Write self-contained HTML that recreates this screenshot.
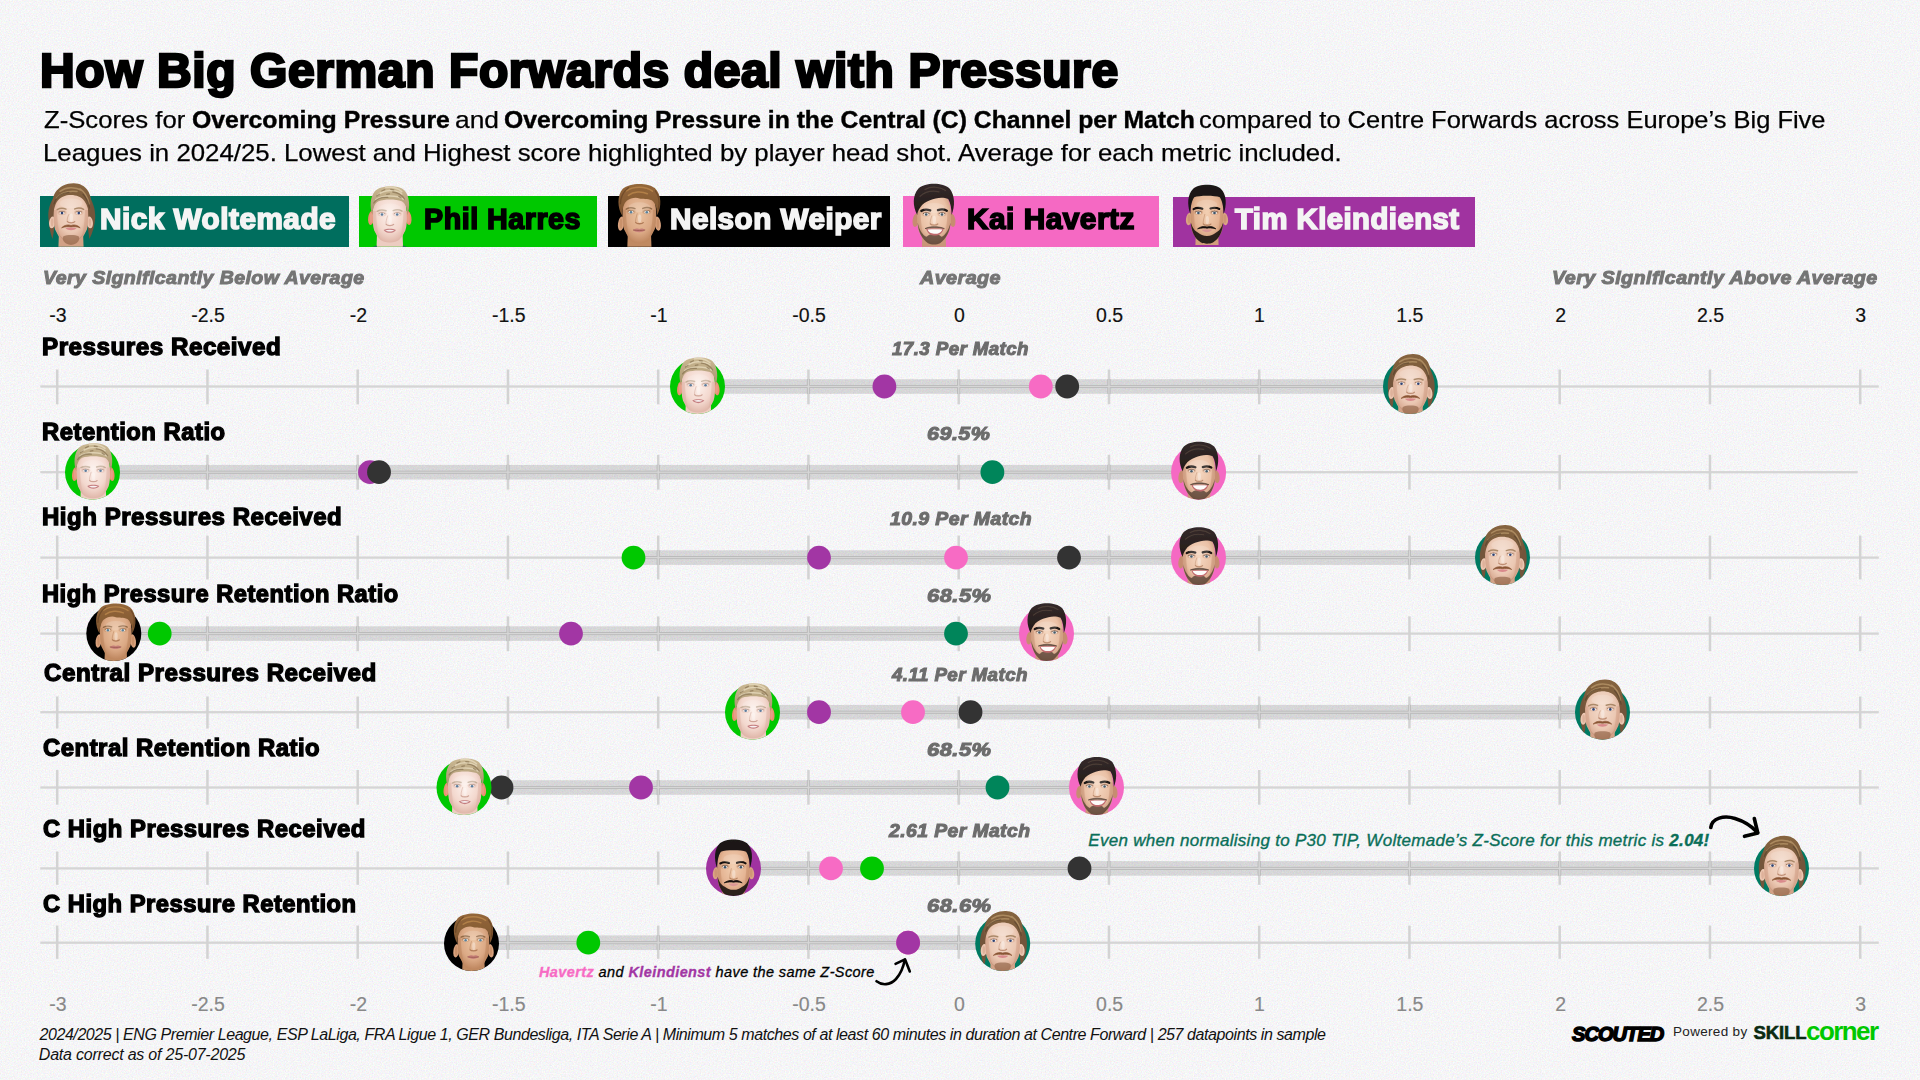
<!DOCTYPE html>
<html lang="en"><head><meta charset="utf-8"><title>How Big German Forwards deal with Pressure</title>
<style>
html,body{margin:0;padding:0}
body{width:1920px;height:1080px;overflow:hidden;background:#f6f6f7;font-family:"Liberation Sans",sans-serif;position:relative}
.t{position:absolute;white-space:nowrap;line-height:1;color:#000;stroke-linejoin:round;paint-order:stroke fill}
.box{position:absolute;top:196.2px;height:50.5px}
.hs{position:absolute;overflow:visible}
svg{position:absolute;left:0;top:0;overflow:visible}
#noise{position:absolute;left:0;top:0;width:1920px;height:1080px;pointer-events:none}

</style></head><body>
<svg id="noise" width="1920" height="1080"><filter id="nz" x="0" y="0" width="100%" height="100%" color-interpolation-filters="sRGB"><feTurbulence type="fractalNoise" baseFrequency="0.75" numOctaves="2" seed="7" stitchTiles="stitch"/><feColorMatrix type="matrix" values="0.16 0 0 0 0.881  0 0.16 0 0 0.881  0 0 0.16 0 0.887  0 0 0 0 1"/></filter><rect width="1920" height="1080" filter="url(#nz)"/></svg>
<div class="box" style="left:40.0px;width:309.0px;background:#006e5e"></div>
<div class="box" style="left:359.0px;width:238.0px;background:#00c800"></div>
<div class="box" style="left:608.0px;width:282.0px;background:#000000"></div>
<div class="box" style="left:903.0px;width:255.8px;background:#f569c3"></div>
<div class="box" style="left:1173.0px;width:302.0px;background:#a033a0;top:197.1px;height:49.6px"></div>
<svg width="1920" height="1080" viewBox="0 0 1920 1080">
<defs><radialGradient id="sk_wol" cx="0.5" cy="0.42" r="0.62"><stop offset="0" stop-color="#f4dccd"/><stop offset="0.62" stop-color="#ebc8b3"/><stop offset="1" stop-color="#cf9c82"/></radialGradient><linearGradient id="hr_wol" x1="0" y1="0" x2="0" y2="1"><stop offset="0" stop-color="#86643f"/><stop offset="1" stop-color="#73543a"/></linearGradient><radialGradient id="sk_har" cx="0.5" cy="0.42" r="0.62"><stop offset="0" stop-color="#fdf2ed"/><stop offset="0.62" stop-color="#f3d8ce"/><stop offset="1" stop-color="#dcb0a2"/></radialGradient><linearGradient id="hr_har" x1="0" y1="0" x2="0" y2="1"><stop offset="0" stop-color="#cbb994"/><stop offset="1" stop-color="#a8926c"/></linearGradient><radialGradient id="sk_wei" cx="0.5" cy="0.42" r="0.62"><stop offset="0" stop-color="#ecc4a2"/><stop offset="0.62" stop-color="#dba985"/><stop offset="1" stop-color="#b98058"/></radialGradient><linearGradient id="hr_wei" x1="0" y1="0" x2="0" y2="1"><stop offset="0" stop-color="#94673a"/><stop offset="1" stop-color="#7d5430"/></linearGradient><radialGradient id="sk_hav" cx="0.5" cy="0.42" r="0.62"><stop offset="0" stop-color="#f5d8c2"/><stop offset="0.62" stop-color="#eac1a6"/><stop offset="1" stop-color="#c48e70"/></radialGradient><linearGradient id="hr_hav" x1="0" y1="0" x2="0" y2="1"><stop offset="0" stop-color="#33292a"/><stop offset="1" stop-color="#241c18"/></linearGradient><radialGradient id="sk_kle" cx="0.5" cy="0.42" r="0.62"><stop offset="0" stop-color="#f2cfb2"/><stop offset="0.62" stop-color="#e5b594"/><stop offset="1" stop-color="#c48a66"/></radialGradient><linearGradient id="hr_kle" x1="0" y1="0" x2="0" y2="1"><stop offset="0" stop-color="#1e1a18"/><stop offset="1" stop-color="#141110"/></linearGradient><filter id="soft" x="-10%" y="-10%" width="120%" height="120%"><feGaussianBlur stdDeviation="0.32"/></filter></defs>
<defs><clipPath id="hc"><path d="M-40,-45 H40 V0 H27.5 A27.5,27.5 0 0 1 -27.5,0 H-40 Z"/></clipPath></defs>
<g>
<rect x="40.3" y="385.35" width="1838.5" height="2.3" fill="#d5d5d5"/>
<rect x="55.95" y="369.50" width="2.5" height="34.80" fill="#d3d3d3"/>
<rect x="206.20" y="369.50" width="2.5" height="34.80" fill="#d3d3d3"/>
<rect x="356.45" y="369.50" width="2.5" height="34.80" fill="#d3d3d3"/>
<rect x="506.70" y="369.50" width="2.5" height="34.80" fill="#d3d3d3"/>
<rect x="656.95" y="369.50" width="2.5" height="34.80" fill="#d3d3d3"/>
<rect x="807.20" y="369.50" width="2.5" height="34.80" fill="#d3d3d3"/>
<rect x="957.45" y="369.50" width="2.5" height="34.80" fill="#d3d3d3"/>
<rect x="1107.70" y="369.50" width="2.5" height="34.80" fill="#d3d3d3"/>
<rect x="1257.95" y="369.50" width="2.5" height="34.80" fill="#d3d3d3"/>
<rect x="1408.20" y="369.50" width="2.5" height="34.80" fill="#d3d3d3"/>
<rect x="1558.45" y="369.50" width="2.5" height="34.80" fill="#d3d3d3"/>
<rect x="1708.70" y="369.50" width="2.5" height="34.80" fill="#d3d3d3"/>
<rect x="1858.95" y="369.50" width="2.5" height="34.80" fill="#d3d3d3"/>
<rect x="697.5" y="379.20" width="713.0" height="14.6" fill="#000" fill-opacity="0.125"/>
<rect x="697.5" y="385.00" width="713.0" height="3" fill="#b9b9b9"/>
<rect x="806.90" y="379.20" width="3.1" height="14.6" fill="#bbbbbb"/>
<rect x="957.15" y="379.20" width="3.1" height="14.6" fill="#bbbbbb"/>
<rect x="1107.40" y="379.20" width="3.1" height="14.6" fill="#bbbbbb"/>
<rect x="1257.65" y="379.20" width="3.1" height="14.6" fill="#bbbbbb"/>
<rect x="1407.90" y="379.20" width="3.1" height="14.6" fill="#bbbbbb"/>
<rect x="697.5" y="385.85" width="713.0" height="1.3" fill="#d6d6d6"/>
<rect x="807.80" y="379.20" width="1.3" height="14.6" fill="#d6d6d6"/>
<rect x="958.05" y="379.20" width="1.3" height="14.6" fill="#d6d6d6"/>
<rect x="1108.30" y="379.20" width="1.3" height="14.6" fill="#d6d6d6"/>
<rect x="1258.55" y="379.20" width="1.3" height="14.6" fill="#d6d6d6"/>
<rect x="1408.80" y="379.20" width="1.3" height="14.6" fill="#d6d6d6"/>
<circle cx="884.4" cy="386.5" r="11.9" fill="#a236a4"/>
<circle cx="1040.8" cy="386.5" r="11.9" fill="#f76bc4"/>
<circle cx="1067.2" cy="386.5" r="11.9" fill="#333333"/>
<circle cx="697.5" cy="386.5" r="27.5" fill="#00c800"/>
<g transform="translate(697.5 386.5)" clip-path="url(#hc)"><g transform="translate(0.8 1.1) scale(0.980)"><g filter="url(#soft)"><path d="M-12.6,11.4 L-13.4,34 L13.4,34 L12.6,11.4 Z" fill="#ecccc1"/><ellipse cx="-18.5" cy="0.8" rx="3.1" ry="7.2" fill="#ee8e70" transform="rotate(8 -18.5 0.8)"/><ellipse cx="-18.6" cy="0.8" rx="1.3" ry="5.2" fill="#dcb0a2" fill-opacity="0.5"/><ellipse cx="18.5" cy="0.8" rx="3.1" ry="7.2" fill="#ee8e70" transform="rotate(-8 18.5 0.8)"/><ellipse cx="18.6" cy="0.8" rx="1.3" ry="5.2" fill="#dcb0a2" fill-opacity="0.5"/><path d="M-17.0,1 C-17.3,-18.5 -13.0,-23.5 0,-23.5 C13.0,-23.5 17.3,-18.5 17.0,1 C17.0,8 16.4,13 14.2,16 C11.2,22 8.5,25.4 0,25.4 C-8.5,25.4 -11.2,22 -14.2,16 C-16.4,13 -17.0,8 -17.0,1 Z" fill="url(#sk_har)"/><path d="M-17.0,-6 C-17.0,6 -16.0,16 -10.2,21 C-12.4,14 -13.6,4 -13.6,-6 Z" fill="#dcb0a2" fill-opacity="0.45"/><path d="M17.0,-6 C17.0,6 16.0,16 10.2,21 C12.4,14 13.6,4 13.6,-6 Z" fill="#dcb0a2" fill-opacity="0.45"/><path d="M-17.4,-2 C-20.2,-10 -19.8,-20 -14.8,-26 C-9,-32 9,-32.4 14.8,-26.6 C19.8,-21 20.6,-10 17.6,-2 C17.6,-8 16,-13.4 12,-15.8 C6,-17.8 -5,-18 -11.4,-15.8 C-15.6,-13.4 -17.2,-8 -17.4,-2 Z" fill="url(#hr_har)"/><path d="M-12,-22 C-6,-27.5 6,-28 12,-23 M-14,-17.4 C-8,-21.6 6,-22.4 13.6,-17.8 M-4,-29.4 C2,-30.4 8,-28.6 12,-25.4" fill="none" stroke="#e8dcc0" stroke-width="1.5" stroke-linecap="round" stroke-opacity="0.75"/><path d="M-16,-14 C-13,-18.6 -7,-20 -2,-19.6 M3,-25 C8,-24.6 12,-22 14.6,-18 M-8,-26 l3,-1.4 M1,-27.6 l3,0.4 M-13,-21 l2.6,-1.8 M9,-20.6 l2.4,1.6 M-3,-22.6 l2.6,-0.6" fill="none" stroke="#7d6848" stroke-width="1.3" stroke-linecap="round" stroke-opacity="0.6"/><ellipse cx="-7.8" cy="-3.2" rx="4.6" ry="2.6" fill="#dcb0a2" fill-opacity="0.38"/><ellipse cx="7.4" cy="-3.2" rx="4.6" ry="2.6" fill="#dcb0a2" fill-opacity="0.38"/><path d="M-12.6,-5.7 q4,-2.3 8.8,-0.5 M3.4,-6.4 q4.8,-1.8 8.8,0.5" fill="none" stroke="#b09a80" stroke-width="1.5" stroke-linecap="round" stroke-opacity="0.70"/><path d="M-11.0,-3.5 q3.2,-1.5 6.4,0 M4.2,-3.5 q3.2,-1.5 6.4,0" fill="none" stroke="#8a7464" stroke-width="0.9" stroke-opacity="0.7"/><ellipse cx="-7.8" cy="-2.6" rx="2.6" ry="1.35" fill="#f2ecea"/><circle cx="-7.8" cy="-2.5" r="1.3" fill="#5d7c9c"/><ellipse cx="7.4" cy="-2.6" rx="2.6" ry="1.35" fill="#f2ecea"/><circle cx="7.4" cy="-2.5" r="1.3" fill="#5d7c9c"/><path d="M-3.6,7.4 C-2.4,8.9 2.6,8.9 3.8,7.4" fill="none" stroke="#c49384" stroke-width="1.3" stroke-linecap="round" stroke-opacity="0.8"/><path d="M-2.2,-1.1 C-3.2,2.0 -4.2,5.4 -3.8,7.0" fill="none" stroke="#c49384" stroke-width="0.9" stroke-linecap="round" stroke-opacity="0.45"/><ellipse cx="0.3" cy="3.4" rx="1.7" ry="4.2" fill="#fff" fill-opacity="0.35"/><ellipse cx="0" cy="-8.5" rx="11.0" ry="5" fill="#fff" fill-opacity="0.16"/><path d="M-6.2,13 C-3,11.4 3,11.4 6.2,13 C3.6,16.8 -3.6,16.8 -6.2,13 Z" fill="#c57e80"/><path d="M-4.6,13.2 C-2,12.5 2,12.5 4.6,13.2 C2,14.9 -2,14.9 -4.6,13.2 Z" fill="#f6f1f1"/></g></g></g>
<circle cx="1410.5" cy="386.5" r="27.5" fill="#007a62"/>
<g transform="translate(1410.5 386.5)" clip-path="url(#hc)"><g transform="translate(0.0 0.0) scale(1.000)"><g filter="url(#soft)"><path d="M-16,-20 C-21,-14 -23.2,-6 -22.6,2 C-22.2,9 -21,16 -18.6,23 L-17.4,17 L-15,-6 Z M16,-22 C21.6,-16 24.6,-7 24.2,2 C23.8,9 21.6,17 18.4,23 L17.4,16 L15,-6 Z" fill="#73543a"/><path d="M-11.9,13.4 L-12.7,34 L12.7,34 L11.9,13.4 Z" fill="#d2a186"/><ellipse cx="-18.8" cy="6.5" rx="3.1" ry="6.0" fill="#ecc7b2" transform="rotate(8 -18.8 6.5)"/><ellipse cx="-18.9" cy="6.5" rx="1.3" ry="4.0" fill="#cf9c82" fill-opacity="0.5"/><ellipse cx="18.8" cy="6.5" rx="3.1" ry="6.0" fill="#ecc7b2" transform="rotate(-8 18.8 6.5)"/><ellipse cx="18.9" cy="6.5" rx="1.3" ry="4.0" fill="#cf9c82" fill-opacity="0.5"/><path d="M-17.3,1 C-17.6,-22.5 -13.3,-27.5 0,-27.5 C13.3,-27.5 17.6,-22.5 17.3,1 C17.3,8 16.7,13 14.6,16 C11.6,22 8.5,27.4 0,27.4 C-8.5,27.4 -11.6,22 -14.6,16 C-16.7,13 -17.3,8 -17.3,1 Z" fill="url(#sk_wol)"/><path d="M-17.3,-6 C-17.3,6 -16.3,16 -10.6,21 C-12.7,14 -13.9,4 -13.9,-6 Z" fill="#cf9c82" fill-opacity="0.45"/><path d="M17.3,-6 C17.3,6 16.3,16 10.6,21 C12.7,14 13.9,4 13.9,-6 Z" fill="#cf9c82" fill-opacity="0.45"/><path d="M-7.6,20.4 C-4,18.6 4,18.6 7.6,20.4 C9.4,23.6 7,28.6 0,29 C-7,28.6 -9.4,23.6 -7.6,20.4 Z" fill="#8a5e40" fill-opacity="0.62"/><path d="M-13,16 C-11,22 -7,26.4 0,27.6 C7,26.4 11,22 13,16 C10.6,21.4 6,24.6 0,25 C-6,24.6 -10.6,21.4 -13,16 Z" fill="#a9795c" fill-opacity="0.35"/><path d="M-17.8,-1 C-19.6,-8 -19.6,-17 -15.6,-23.6 C-11.6,-29.6 -4,-32.8 3,-32.6 C9,-32.4 13.4,-30 16.4,-26 C20,-21 21.6,-12 20,-5 L17.8,0 C17.8,-6 16.4,-11 13.4,-15 C10,-19.4 4,-21.4 -2,-20.8 C-8,-20.2 -13,-17 -15.4,-11.6 C-16.8,-8 -17.6,-4.6 -17.8,-1 Z" fill="url(#hr_wol)"/><path d="M-11,-24.6 C-5,-29 4,-29.6 11,-25.4 M-14.6,-17.6 C-10,-23 -2,-25.4 6,-24.4 M9,-27 C13.6,-24 16.6,-19 18,-12" fill="none" stroke="#b8976a" stroke-width="1.5" stroke-linecap="round" stroke-opacity="0.75"/><path d="M-17,-12 C-15,-19 -9,-23.4 -2,-23.6 M12,-21.6 C15.6,-18 17.6,-13 18.6,-8" fill="none" stroke="#54402c" stroke-width="1.3" stroke-linecap="round" stroke-opacity="0.6"/><ellipse cx="-9.0" cy="-3.5" rx="4.6" ry="2.6" fill="#cf9c82" fill-opacity="0.38"/><ellipse cx="7.8" cy="-3.5" rx="4.6" ry="2.6" fill="#cf9c82" fill-opacity="0.38"/><path d="M-13.8,-6.3 q4,-2.3 8.8,-0.5 M3.8,-7.0 q4.8,-1.8 8.8,0.5" fill="none" stroke="#94724e" stroke-width="1.5" stroke-linecap="round" stroke-opacity="0.75"/><path d="M-12.2,-3.8 q3.2,-1.5 6.4,0 M4.6,-3.8 q3.2,-1.5 6.4,0" fill="none" stroke="#6a4c36" stroke-width="0.9" stroke-opacity="0.7"/><ellipse cx="-9.0" cy="-2.9" rx="2.6" ry="1.35" fill="#f6efeb"/><circle cx="-9.0" cy="-2.8" r="1.3" fill="#2f4272"/><ellipse cx="7.8" cy="-2.9" rx="2.6" ry="1.35" fill="#f6efeb"/><circle cx="7.8" cy="-2.8" r="1.3" fill="#2f4272"/><path d="M-3.6,5.8 C-2.4,7.3 2.6,7.3 3.8,5.8" fill="none" stroke="#b27c60" stroke-width="1.3" stroke-linecap="round" stroke-opacity="0.8"/><path d="M-2.2,-1.4 C-3.2,0.4 -4.2,3.8 -3.8,5.4" fill="none" stroke="#b27c60" stroke-width="0.9" stroke-linecap="round" stroke-opacity="0.45"/><ellipse cx="0.3" cy="1.8" rx="1.7" ry="4.2" fill="#fff" fill-opacity="0.35"/><ellipse cx="0" cy="-12.5" rx="11.3" ry="5" fill="#fff" fill-opacity="0.16"/><path d="M-9.4,11.9 C-6,8.6 -2,8.7 0,9.6 C2,8.7 6,8.6 9.2,11.9 C5.6,10.5 2.6,10.7 0,11.1 C-2.6,10.7 -5.6,10.5 -9.4,11.9 Z" fill="#8a5434" stroke="#8a5434" stroke-width="0.7"/><path d="M-5.6,12.2 C-2,11.5 2,11.5 5.6,12.2 C3,15.2 -3,15.2 -5.6,12.2 Z" fill="#d98a8c"/></g></g></g>
</g>
<g>
<rect x="40.3" y="471.05" width="1817.4" height="2.3" fill="#d5d5d5"/>
<rect x="55.95" y="454.80" width="2.5" height="34.80" fill="#d3d3d3"/>
<rect x="206.20" y="454.80" width="2.5" height="34.80" fill="#d3d3d3"/>
<rect x="356.45" y="454.80" width="2.5" height="34.80" fill="#d3d3d3"/>
<rect x="506.70" y="454.80" width="2.5" height="34.80" fill="#d3d3d3"/>
<rect x="656.95" y="454.80" width="2.5" height="34.80" fill="#d3d3d3"/>
<rect x="807.20" y="454.80" width="2.5" height="34.80" fill="#d3d3d3"/>
<rect x="957.45" y="454.80" width="2.5" height="34.80" fill="#d3d3d3"/>
<rect x="1107.70" y="454.80" width="2.5" height="34.80" fill="#d3d3d3"/>
<rect x="1257.95" y="454.80" width="2.5" height="34.80" fill="#d3d3d3"/>
<rect x="1408.20" y="454.80" width="2.5" height="34.80" fill="#d3d3d3"/>
<rect x="1558.45" y="454.80" width="2.5" height="34.80" fill="#d3d3d3"/>
<rect x="1708.70" y="454.80" width="2.5" height="34.80" fill="#d3d3d3"/>
<rect x="92.5" y="464.90" width="1106.1" height="14.6" fill="#000" fill-opacity="0.125"/>
<rect x="92.5" y="470.70" width="1106.1" height="3" fill="#b9b9b9"/>
<rect x="205.90" y="464.90" width="3.1" height="14.6" fill="#bbbbbb"/>
<rect x="356.15" y="464.90" width="3.1" height="14.6" fill="#bbbbbb"/>
<rect x="506.40" y="464.90" width="3.1" height="14.6" fill="#bbbbbb"/>
<rect x="656.65" y="464.90" width="3.1" height="14.6" fill="#bbbbbb"/>
<rect x="806.90" y="464.90" width="3.1" height="14.6" fill="#bbbbbb"/>
<rect x="957.15" y="464.90" width="3.1" height="14.6" fill="#bbbbbb"/>
<rect x="1107.40" y="464.90" width="3.1" height="14.6" fill="#bbbbbb"/>
<rect x="92.5" y="471.55" width="1106.1" height="1.3" fill="#d6d6d6"/>
<rect x="206.80" y="464.90" width="1.3" height="14.6" fill="#d6d6d6"/>
<rect x="357.05" y="464.90" width="1.3" height="14.6" fill="#d6d6d6"/>
<rect x="507.30" y="464.90" width="1.3" height="14.6" fill="#d6d6d6"/>
<rect x="657.55" y="464.90" width="1.3" height="14.6" fill="#d6d6d6"/>
<rect x="807.80" y="464.90" width="1.3" height="14.6" fill="#d6d6d6"/>
<rect x="958.05" y="464.90" width="1.3" height="14.6" fill="#d6d6d6"/>
<rect x="1108.30" y="464.90" width="1.3" height="14.6" fill="#d6d6d6"/>
<circle cx="370.0" cy="472.2" r="11.9" fill="#a236a4"/>
<circle cx="379.0" cy="472.2" r="11.9" fill="#333333"/>
<circle cx="992.4" cy="472.2" r="11.9" fill="#00855a"/>
<circle cx="92.5" cy="472.2" r="27.5" fill="#00c800"/>
<g transform="translate(92.5 472.2)" clip-path="url(#hc)"><g transform="translate(0.8 1.1) scale(0.980)"><g filter="url(#soft)"><path d="M-12.6,11.4 L-13.4,34 L13.4,34 L12.6,11.4 Z" fill="#ecccc1"/><ellipse cx="-18.5" cy="0.8" rx="3.1" ry="7.2" fill="#ee8e70" transform="rotate(8 -18.5 0.8)"/><ellipse cx="-18.6" cy="0.8" rx="1.3" ry="5.2" fill="#dcb0a2" fill-opacity="0.5"/><ellipse cx="18.5" cy="0.8" rx="3.1" ry="7.2" fill="#ee8e70" transform="rotate(-8 18.5 0.8)"/><ellipse cx="18.6" cy="0.8" rx="1.3" ry="5.2" fill="#dcb0a2" fill-opacity="0.5"/><path d="M-17.0,1 C-17.3,-18.5 -13.0,-23.5 0,-23.5 C13.0,-23.5 17.3,-18.5 17.0,1 C17.0,8 16.4,13 14.2,16 C11.2,22 8.5,25.4 0,25.4 C-8.5,25.4 -11.2,22 -14.2,16 C-16.4,13 -17.0,8 -17.0,1 Z" fill="url(#sk_har)"/><path d="M-17.0,-6 C-17.0,6 -16.0,16 -10.2,21 C-12.4,14 -13.6,4 -13.6,-6 Z" fill="#dcb0a2" fill-opacity="0.45"/><path d="M17.0,-6 C17.0,6 16.0,16 10.2,21 C12.4,14 13.6,4 13.6,-6 Z" fill="#dcb0a2" fill-opacity="0.45"/><path d="M-17.4,-2 C-20.2,-10 -19.8,-20 -14.8,-26 C-9,-32 9,-32.4 14.8,-26.6 C19.8,-21 20.6,-10 17.6,-2 C17.6,-8 16,-13.4 12,-15.8 C6,-17.8 -5,-18 -11.4,-15.8 C-15.6,-13.4 -17.2,-8 -17.4,-2 Z" fill="url(#hr_har)"/><path d="M-12,-22 C-6,-27.5 6,-28 12,-23 M-14,-17.4 C-8,-21.6 6,-22.4 13.6,-17.8 M-4,-29.4 C2,-30.4 8,-28.6 12,-25.4" fill="none" stroke="#e8dcc0" stroke-width="1.5" stroke-linecap="round" stroke-opacity="0.75"/><path d="M-16,-14 C-13,-18.6 -7,-20 -2,-19.6 M3,-25 C8,-24.6 12,-22 14.6,-18 M-8,-26 l3,-1.4 M1,-27.6 l3,0.4 M-13,-21 l2.6,-1.8 M9,-20.6 l2.4,1.6 M-3,-22.6 l2.6,-0.6" fill="none" stroke="#7d6848" stroke-width="1.3" stroke-linecap="round" stroke-opacity="0.6"/><ellipse cx="-7.8" cy="-3.2" rx="4.6" ry="2.6" fill="#dcb0a2" fill-opacity="0.38"/><ellipse cx="7.4" cy="-3.2" rx="4.6" ry="2.6" fill="#dcb0a2" fill-opacity="0.38"/><path d="M-12.6,-5.7 q4,-2.3 8.8,-0.5 M3.4,-6.4 q4.8,-1.8 8.8,0.5" fill="none" stroke="#b09a80" stroke-width="1.5" stroke-linecap="round" stroke-opacity="0.70"/><path d="M-11.0,-3.5 q3.2,-1.5 6.4,0 M4.2,-3.5 q3.2,-1.5 6.4,0" fill="none" stroke="#8a7464" stroke-width="0.9" stroke-opacity="0.7"/><ellipse cx="-7.8" cy="-2.6" rx="2.6" ry="1.35" fill="#f2ecea"/><circle cx="-7.8" cy="-2.5" r="1.3" fill="#5d7c9c"/><ellipse cx="7.4" cy="-2.6" rx="2.6" ry="1.35" fill="#f2ecea"/><circle cx="7.4" cy="-2.5" r="1.3" fill="#5d7c9c"/><path d="M-3.6,7.4 C-2.4,8.9 2.6,8.9 3.8,7.4" fill="none" stroke="#c49384" stroke-width="1.3" stroke-linecap="round" stroke-opacity="0.8"/><path d="M-2.2,-1.1 C-3.2,2.0 -4.2,5.4 -3.8,7.0" fill="none" stroke="#c49384" stroke-width="0.9" stroke-linecap="round" stroke-opacity="0.45"/><ellipse cx="0.3" cy="3.4" rx="1.7" ry="4.2" fill="#fff" fill-opacity="0.35"/><ellipse cx="0" cy="-8.5" rx="11.0" ry="5" fill="#fff" fill-opacity="0.16"/><path d="M-6.2,13 C-3,11.4 3,11.4 6.2,13 C3.6,16.8 -3.6,16.8 -6.2,13 Z" fill="#c57e80"/><path d="M-4.6,13.2 C-2,12.5 2,12.5 4.6,13.2 C2,14.9 -2,14.9 -4.6,13.2 Z" fill="#f6f1f1"/></g></g></g>
<circle cx="1198.6" cy="472.2" r="27.5" fill="#f569c3"/>
<g transform="translate(1198.6 472.2)" clip-path="url(#hc)"><g transform="translate(0.4 0.8) scale(0.960)"><g filter="url(#soft)"><path d="M-11.4,13.8 L-12.2,34 L12.2,34 L11.4,13.8 Z" fill="#c99678"/><ellipse cx="-18.3" cy="3.8" rx="3.1" ry="6.8" fill="#c88c72" transform="rotate(8 -18.3 3.8)"/><ellipse cx="-18.4" cy="3.8" rx="1.3" ry="4.8" fill="#c48e70" fill-opacity="0.5"/><ellipse cx="18.3" cy="3.8" rx="3.1" ry="6.8" fill="#c88c72" transform="rotate(-8 18.3 3.8)"/><ellipse cx="18.4" cy="3.8" rx="1.3" ry="4.8" fill="#c48e70" fill-opacity="0.5"/><path d="M-16.8,1 C-17.1,-18.5 -12.8,-23.5 0,-23.5 C12.8,-23.5 17.1,-18.5 16.8,1 C16.8,8 16.2,13 14.6,16 C11.6,22 8.5,27.8 0,27.8 C-8.5,27.8 -11.6,22 -14.6,16 C-16.2,13 -16.8,8 -16.8,1 Z" fill="url(#sk_hav)"/><path d="M-16.8,-6 C-16.8,6 -15.8,16 -10.6,21 C-12.2,14 -13.4,4 -13.4,-6 Z" fill="#c48e70" fill-opacity="0.45"/><path d="M16.8,-6 C16.8,6 15.8,16 10.6,21 C12.2,14 13.4,4 13.4,-6 Z" fill="#c48e70" fill-opacity="0.45"/><path d="M-16.4,6 C-15.8,15 -12,22.6 -6,26.8 C-3,28.6 3,28.6 6,26.8 C12,22.6 16,15 16.6,6 C14.6,14 11,19 7.4,20.4 C4,16.4 -4,16.4 -7.4,20.4 C-11,19 -14.6,14 -16.4,6 Z" fill="#3a2a22" fill-opacity="0.66"/><path d="M-9,12.2 C-4,9.6 4.6,9.6 10.4,12.2 C5,11.2 -4,11.2 -9,12.2 Z" fill="#3a2a22" fill-opacity="0.6" stroke="#3a2a22" stroke-opacity="0.5" stroke-width="1"/><path d="M-16.8,-1.5 C-21.4,-10 -21.6,-21 -15.8,-27.6 C-9,-34.2 9,-34.2 15.8,-27.6 C21,-21 21.2,-10 17.6,-1.5 C17.4,-8 16.8,-13 14.2,-17.4 C9,-19.8 2,-18.8 -4,-16.2 C-8,-14.4 -11.6,-12.8 -13.8,-9 C-15.8,-6 -16.6,-4 -16.8,-1.5 Z" fill="url(#hr_hav)"/><path d="M-9,-27 C-3,-30.4 6,-29.8 11.6,-25.8 M-14,-20 C-9,-24.6 -2,-26 5,-24.6" fill="none" stroke="#55463c" stroke-width="1.2" stroke-linecap="round" stroke-opacity="0.75"/><ellipse cx="-7.8" cy="-2.6" rx="4.6" ry="2.6" fill="#c48e70" fill-opacity="0.38"/><ellipse cx="8.0" cy="-2.6" rx="4.6" ry="2.6" fill="#c48e70" fill-opacity="0.38"/><path d="M-12.6,-5.5 q4,-2.3 8.8,-0.5 M4.0,-6.2 q4.8,-1.8 8.8,0.5" fill="none" stroke="#1d1612" stroke-width="2.4" stroke-linecap="round" stroke-opacity="1.00"/><path d="M-11.0,-2.9 q3.2,-1.5 6.4,0 M4.8,-2.9 q3.2,-1.5 6.4,0" fill="none" stroke="#2a201a" stroke-width="0.9" stroke-opacity="0.7"/><ellipse cx="-7.8" cy="-2.0" rx="2.6" ry="1.35" fill="#f1e9e4"/><circle cx="-7.8" cy="-1.9" r="1.3" fill="#465c6a"/><ellipse cx="8.0" cy="-2.0" rx="2.6" ry="1.35" fill="#f1e9e4"/><circle cx="8.0" cy="-1.9" r="1.3" fill="#465c6a"/><path d="M-3.6,7.6 C-2.4,9.1 2.6,9.1 3.8,7.6" fill="none" stroke="#b27e60" stroke-width="1.3" stroke-linecap="round" stroke-opacity="0.8"/><path d="M-2.2,-0.5 C-3.2,2.2 -4.2,5.6 -3.8,7.2" fill="none" stroke="#b27e60" stroke-width="0.9" stroke-linecap="round" stroke-opacity="0.45"/><ellipse cx="0.3" cy="3.6" rx="1.7" ry="4.2" fill="#fff" fill-opacity="0.35"/><ellipse cx="0" cy="-8.5" rx="10.8" ry="5" fill="#fff" fill-opacity="0.16"/><path d="M-7.8,12.6 C-3,12 5,12 9.8,12.4 C8.2,17.8 4,19.2 1,19.2 C-2.4,19.2 -6.2,17.8 -7.8,12.6 Z" fill="#c16a6e"/><path d="M-6.4,13.1 C-2,12.7 4.4,12.7 8.4,13 C6.8,16.6 3.6,17.4 1,17.4 C-1.8,17.4 -5,16.6 -6.4,13.1 Z" fill="#fdfcfa"/></g></g></g>
</g>
<g>
<rect x="40.3" y="556.45" width="1838.5" height="2.3" fill="#d5d5d5"/>
<rect x="55.95" y="535.60" width="2.5" height="43.80" fill="#d3d3d3"/>
<rect x="206.20" y="535.60" width="2.5" height="43.80" fill="#d3d3d3"/>
<rect x="356.45" y="535.60" width="2.5" height="43.80" fill="#d3d3d3"/>
<rect x="506.70" y="535.60" width="2.5" height="43.80" fill="#d3d3d3"/>
<rect x="656.95" y="535.60" width="2.5" height="43.80" fill="#d3d3d3"/>
<rect x="807.20" y="535.60" width="2.5" height="43.80" fill="#d3d3d3"/>
<rect x="957.45" y="535.60" width="2.5" height="43.80" fill="#d3d3d3"/>
<rect x="1107.70" y="535.60" width="2.5" height="43.80" fill="#d3d3d3"/>
<rect x="1257.95" y="535.60" width="2.5" height="43.80" fill="#d3d3d3"/>
<rect x="1408.20" y="535.60" width="2.5" height="43.80" fill="#d3d3d3"/>
<rect x="1558.45" y="535.60" width="2.5" height="43.80" fill="#d3d3d3"/>
<rect x="1708.70" y="535.60" width="2.5" height="43.80" fill="#d3d3d3"/>
<rect x="1858.95" y="535.60" width="2.5" height="43.80" fill="#d3d3d3"/>
<rect x="633.5" y="550.30" width="869.0" height="14.6" fill="#000" fill-opacity="0.125"/>
<rect x="633.5" y="556.10" width="869.0" height="3" fill="#b9b9b9"/>
<rect x="656.65" y="550.30" width="3.1" height="14.6" fill="#bbbbbb"/>
<rect x="806.90" y="550.30" width="3.1" height="14.6" fill="#bbbbbb"/>
<rect x="957.15" y="550.30" width="3.1" height="14.6" fill="#bbbbbb"/>
<rect x="1107.40" y="550.30" width="3.1" height="14.6" fill="#bbbbbb"/>
<rect x="1257.65" y="550.30" width="3.1" height="14.6" fill="#bbbbbb"/>
<rect x="1407.90" y="550.30" width="3.1" height="14.6" fill="#bbbbbb"/>
<rect x="633.5" y="556.95" width="869.0" height="1.3" fill="#d6d6d6"/>
<rect x="657.55" y="550.30" width="1.3" height="14.6" fill="#d6d6d6"/>
<rect x="807.80" y="550.30" width="1.3" height="14.6" fill="#d6d6d6"/>
<rect x="958.05" y="550.30" width="1.3" height="14.6" fill="#d6d6d6"/>
<rect x="1108.30" y="550.30" width="1.3" height="14.6" fill="#d6d6d6"/>
<rect x="1258.55" y="550.30" width="1.3" height="14.6" fill="#d6d6d6"/>
<rect x="1408.80" y="550.30" width="1.3" height="14.6" fill="#d6d6d6"/>
<circle cx="633.5" cy="557.6" r="11.9" fill="#00c800"/>
<circle cx="819.0" cy="557.6" r="11.9" fill="#a236a4"/>
<circle cx="956.0" cy="557.6" r="11.9" fill="#f76bc4"/>
<circle cx="1069.0" cy="557.6" r="11.9" fill="#333333"/>
<circle cx="1198.5" cy="557.6" r="27.5" fill="#f569c3"/>
<g transform="translate(1198.5 557.6)" clip-path="url(#hc)"><g transform="translate(0.4 0.8) scale(0.960)"><g filter="url(#soft)"><path d="M-11.4,13.8 L-12.2,34 L12.2,34 L11.4,13.8 Z" fill="#c99678"/><ellipse cx="-18.3" cy="3.8" rx="3.1" ry="6.8" fill="#c88c72" transform="rotate(8 -18.3 3.8)"/><ellipse cx="-18.4" cy="3.8" rx="1.3" ry="4.8" fill="#c48e70" fill-opacity="0.5"/><ellipse cx="18.3" cy="3.8" rx="3.1" ry="6.8" fill="#c88c72" transform="rotate(-8 18.3 3.8)"/><ellipse cx="18.4" cy="3.8" rx="1.3" ry="4.8" fill="#c48e70" fill-opacity="0.5"/><path d="M-16.8,1 C-17.1,-18.5 -12.8,-23.5 0,-23.5 C12.8,-23.5 17.1,-18.5 16.8,1 C16.8,8 16.2,13 14.6,16 C11.6,22 8.5,27.8 0,27.8 C-8.5,27.8 -11.6,22 -14.6,16 C-16.2,13 -16.8,8 -16.8,1 Z" fill="url(#sk_hav)"/><path d="M-16.8,-6 C-16.8,6 -15.8,16 -10.6,21 C-12.2,14 -13.4,4 -13.4,-6 Z" fill="#c48e70" fill-opacity="0.45"/><path d="M16.8,-6 C16.8,6 15.8,16 10.6,21 C12.2,14 13.4,4 13.4,-6 Z" fill="#c48e70" fill-opacity="0.45"/><path d="M-16.4,6 C-15.8,15 -12,22.6 -6,26.8 C-3,28.6 3,28.6 6,26.8 C12,22.6 16,15 16.6,6 C14.6,14 11,19 7.4,20.4 C4,16.4 -4,16.4 -7.4,20.4 C-11,19 -14.6,14 -16.4,6 Z" fill="#3a2a22" fill-opacity="0.66"/><path d="M-9,12.2 C-4,9.6 4.6,9.6 10.4,12.2 C5,11.2 -4,11.2 -9,12.2 Z" fill="#3a2a22" fill-opacity="0.6" stroke="#3a2a22" stroke-opacity="0.5" stroke-width="1"/><path d="M-16.8,-1.5 C-21.4,-10 -21.6,-21 -15.8,-27.6 C-9,-34.2 9,-34.2 15.8,-27.6 C21,-21 21.2,-10 17.6,-1.5 C17.4,-8 16.8,-13 14.2,-17.4 C9,-19.8 2,-18.8 -4,-16.2 C-8,-14.4 -11.6,-12.8 -13.8,-9 C-15.8,-6 -16.6,-4 -16.8,-1.5 Z" fill="url(#hr_hav)"/><path d="M-9,-27 C-3,-30.4 6,-29.8 11.6,-25.8 M-14,-20 C-9,-24.6 -2,-26 5,-24.6" fill="none" stroke="#55463c" stroke-width="1.2" stroke-linecap="round" stroke-opacity="0.75"/><ellipse cx="-7.8" cy="-2.6" rx="4.6" ry="2.6" fill="#c48e70" fill-opacity="0.38"/><ellipse cx="8.0" cy="-2.6" rx="4.6" ry="2.6" fill="#c48e70" fill-opacity="0.38"/><path d="M-12.6,-5.5 q4,-2.3 8.8,-0.5 M4.0,-6.2 q4.8,-1.8 8.8,0.5" fill="none" stroke="#1d1612" stroke-width="2.4" stroke-linecap="round" stroke-opacity="1.00"/><path d="M-11.0,-2.9 q3.2,-1.5 6.4,0 M4.8,-2.9 q3.2,-1.5 6.4,0" fill="none" stroke="#2a201a" stroke-width="0.9" stroke-opacity="0.7"/><ellipse cx="-7.8" cy="-2.0" rx="2.6" ry="1.35" fill="#f1e9e4"/><circle cx="-7.8" cy="-1.9" r="1.3" fill="#465c6a"/><ellipse cx="8.0" cy="-2.0" rx="2.6" ry="1.35" fill="#f1e9e4"/><circle cx="8.0" cy="-1.9" r="1.3" fill="#465c6a"/><path d="M-3.6,7.6 C-2.4,9.1 2.6,9.1 3.8,7.6" fill="none" stroke="#b27e60" stroke-width="1.3" stroke-linecap="round" stroke-opacity="0.8"/><path d="M-2.2,-0.5 C-3.2,2.2 -4.2,5.6 -3.8,7.2" fill="none" stroke="#b27e60" stroke-width="0.9" stroke-linecap="round" stroke-opacity="0.45"/><ellipse cx="0.3" cy="3.6" rx="1.7" ry="4.2" fill="#fff" fill-opacity="0.35"/><ellipse cx="0" cy="-8.5" rx="10.8" ry="5" fill="#fff" fill-opacity="0.16"/><path d="M-7.8,12.6 C-3,12 5,12 9.8,12.4 C8.2,17.8 4,19.2 1,19.2 C-2.4,19.2 -6.2,17.8 -7.8,12.6 Z" fill="#c16a6e"/><path d="M-6.4,13.1 C-2,12.7 4.4,12.7 8.4,13 C6.8,16.6 3.6,17.4 1,17.4 C-1.8,17.4 -5,16.6 -6.4,13.1 Z" fill="#fdfcfa"/></g></g></g>
<circle cx="1502.5" cy="557.6" r="27.5" fill="#007a62"/>
<g transform="translate(1502.5 557.6)" clip-path="url(#hc)"><g transform="translate(0.0 0.0) scale(1.000)"><g filter="url(#soft)"><path d="M-16,-20 C-21,-14 -23.2,-6 -22.6,2 C-22.2,9 -21,16 -18.6,23 L-17.4,17 L-15,-6 Z M16,-22 C21.6,-16 24.6,-7 24.2,2 C23.8,9 21.6,17 18.4,23 L17.4,16 L15,-6 Z" fill="#73543a"/><path d="M-11.9,13.4 L-12.7,34 L12.7,34 L11.9,13.4 Z" fill="#d2a186"/><ellipse cx="-18.8" cy="6.5" rx="3.1" ry="6.0" fill="#ecc7b2" transform="rotate(8 -18.8 6.5)"/><ellipse cx="-18.9" cy="6.5" rx="1.3" ry="4.0" fill="#cf9c82" fill-opacity="0.5"/><ellipse cx="18.8" cy="6.5" rx="3.1" ry="6.0" fill="#ecc7b2" transform="rotate(-8 18.8 6.5)"/><ellipse cx="18.9" cy="6.5" rx="1.3" ry="4.0" fill="#cf9c82" fill-opacity="0.5"/><path d="M-17.3,1 C-17.6,-22.5 -13.3,-27.5 0,-27.5 C13.3,-27.5 17.6,-22.5 17.3,1 C17.3,8 16.7,13 14.6,16 C11.6,22 8.5,27.4 0,27.4 C-8.5,27.4 -11.6,22 -14.6,16 C-16.7,13 -17.3,8 -17.3,1 Z" fill="url(#sk_wol)"/><path d="M-17.3,-6 C-17.3,6 -16.3,16 -10.6,21 C-12.7,14 -13.9,4 -13.9,-6 Z" fill="#cf9c82" fill-opacity="0.45"/><path d="M17.3,-6 C17.3,6 16.3,16 10.6,21 C12.7,14 13.9,4 13.9,-6 Z" fill="#cf9c82" fill-opacity="0.45"/><path d="M-7.6,20.4 C-4,18.6 4,18.6 7.6,20.4 C9.4,23.6 7,28.6 0,29 C-7,28.6 -9.4,23.6 -7.6,20.4 Z" fill="#8a5e40" fill-opacity="0.62"/><path d="M-13,16 C-11,22 -7,26.4 0,27.6 C7,26.4 11,22 13,16 C10.6,21.4 6,24.6 0,25 C-6,24.6 -10.6,21.4 -13,16 Z" fill="#a9795c" fill-opacity="0.35"/><path d="M-17.8,-1 C-19.6,-8 -19.6,-17 -15.6,-23.6 C-11.6,-29.6 -4,-32.8 3,-32.6 C9,-32.4 13.4,-30 16.4,-26 C20,-21 21.6,-12 20,-5 L17.8,0 C17.8,-6 16.4,-11 13.4,-15 C10,-19.4 4,-21.4 -2,-20.8 C-8,-20.2 -13,-17 -15.4,-11.6 C-16.8,-8 -17.6,-4.6 -17.8,-1 Z" fill="url(#hr_wol)"/><path d="M-11,-24.6 C-5,-29 4,-29.6 11,-25.4 M-14.6,-17.6 C-10,-23 -2,-25.4 6,-24.4 M9,-27 C13.6,-24 16.6,-19 18,-12" fill="none" stroke="#b8976a" stroke-width="1.5" stroke-linecap="round" stroke-opacity="0.75"/><path d="M-17,-12 C-15,-19 -9,-23.4 -2,-23.6 M12,-21.6 C15.6,-18 17.6,-13 18.6,-8" fill="none" stroke="#54402c" stroke-width="1.3" stroke-linecap="round" stroke-opacity="0.6"/><ellipse cx="-9.0" cy="-3.5" rx="4.6" ry="2.6" fill="#cf9c82" fill-opacity="0.38"/><ellipse cx="7.8" cy="-3.5" rx="4.6" ry="2.6" fill="#cf9c82" fill-opacity="0.38"/><path d="M-13.8,-6.3 q4,-2.3 8.8,-0.5 M3.8,-7.0 q4.8,-1.8 8.8,0.5" fill="none" stroke="#94724e" stroke-width="1.5" stroke-linecap="round" stroke-opacity="0.75"/><path d="M-12.2,-3.8 q3.2,-1.5 6.4,0 M4.6,-3.8 q3.2,-1.5 6.4,0" fill="none" stroke="#6a4c36" stroke-width="0.9" stroke-opacity="0.7"/><ellipse cx="-9.0" cy="-2.9" rx="2.6" ry="1.35" fill="#f6efeb"/><circle cx="-9.0" cy="-2.8" r="1.3" fill="#2f4272"/><ellipse cx="7.8" cy="-2.9" rx="2.6" ry="1.35" fill="#f6efeb"/><circle cx="7.8" cy="-2.8" r="1.3" fill="#2f4272"/><path d="M-3.6,5.8 C-2.4,7.3 2.6,7.3 3.8,5.8" fill="none" stroke="#b27c60" stroke-width="1.3" stroke-linecap="round" stroke-opacity="0.8"/><path d="M-2.2,-1.4 C-3.2,0.4 -4.2,3.8 -3.8,5.4" fill="none" stroke="#b27c60" stroke-width="0.9" stroke-linecap="round" stroke-opacity="0.45"/><ellipse cx="0.3" cy="1.8" rx="1.7" ry="4.2" fill="#fff" fill-opacity="0.35"/><ellipse cx="0" cy="-12.5" rx="11.3" ry="5" fill="#fff" fill-opacity="0.16"/><path d="M-9.4,11.9 C-6,8.6 -2,8.7 0,9.6 C2,8.7 6,8.6 9.2,11.9 C5.6,10.5 2.6,10.7 0,11.1 C-2.6,10.7 -5.6,10.5 -9.4,11.9 Z" fill="#8a5434" stroke="#8a5434" stroke-width="0.7"/><path d="M-5.6,12.2 C-2,11.5 2,11.5 5.6,12.2 C3,15.2 -3,15.2 -5.6,12.2 Z" fill="#d98a8c"/></g></g></g>
</g>
<g>
<rect x="40.3" y="632.45" width="1838.5" height="2.3" fill="#d5d5d5"/>
<rect x="55.95" y="616.40" width="2.5" height="34.80" fill="#d3d3d3"/>
<rect x="206.20" y="616.40" width="2.5" height="34.80" fill="#d3d3d3"/>
<rect x="356.45" y="616.40" width="2.5" height="34.80" fill="#d3d3d3"/>
<rect x="506.70" y="616.40" width="2.5" height="34.80" fill="#d3d3d3"/>
<rect x="656.95" y="616.40" width="2.5" height="34.80" fill="#d3d3d3"/>
<rect x="807.20" y="616.40" width="2.5" height="34.80" fill="#d3d3d3"/>
<rect x="957.45" y="616.40" width="2.5" height="34.80" fill="#d3d3d3"/>
<rect x="1107.70" y="616.40" width="2.5" height="34.80" fill="#d3d3d3"/>
<rect x="1257.95" y="616.40" width="2.5" height="34.80" fill="#d3d3d3"/>
<rect x="1408.20" y="616.40" width="2.5" height="34.80" fill="#d3d3d3"/>
<rect x="1558.45" y="616.40" width="2.5" height="34.80" fill="#d3d3d3"/>
<rect x="1708.70" y="616.40" width="2.5" height="34.80" fill="#d3d3d3"/>
<rect x="1858.95" y="616.40" width="2.5" height="34.80" fill="#d3d3d3"/>
<rect x="113.8" y="626.30" width="932.7" height="14.6" fill="#000" fill-opacity="0.125"/>
<rect x="113.8" y="632.10" width="932.7" height="3" fill="#b9b9b9"/>
<rect x="205.90" y="626.30" width="3.1" height="14.6" fill="#bbbbbb"/>
<rect x="356.15" y="626.30" width="3.1" height="14.6" fill="#bbbbbb"/>
<rect x="506.40" y="626.30" width="3.1" height="14.6" fill="#bbbbbb"/>
<rect x="656.65" y="626.30" width="3.1" height="14.6" fill="#bbbbbb"/>
<rect x="806.90" y="626.30" width="3.1" height="14.6" fill="#bbbbbb"/>
<rect x="957.15" y="626.30" width="3.1" height="14.6" fill="#bbbbbb"/>
<rect x="113.8" y="632.95" width="932.7" height="1.3" fill="#d6d6d6"/>
<rect x="206.80" y="626.30" width="1.3" height="14.6" fill="#d6d6d6"/>
<rect x="357.05" y="626.30" width="1.3" height="14.6" fill="#d6d6d6"/>
<rect x="507.30" y="626.30" width="1.3" height="14.6" fill="#d6d6d6"/>
<rect x="657.55" y="626.30" width="1.3" height="14.6" fill="#d6d6d6"/>
<rect x="807.80" y="626.30" width="1.3" height="14.6" fill="#d6d6d6"/>
<rect x="958.05" y="626.30" width="1.3" height="14.6" fill="#d6d6d6"/>
<circle cx="159.7" cy="633.6" r="11.9" fill="#00c800"/>
<circle cx="571.0" cy="633.6" r="11.9" fill="#a236a4"/>
<circle cx="956.0" cy="633.6" r="11.9" fill="#00855a"/>
<circle cx="113.8" cy="633.6" r="27.5" fill="#000000"/>
<g transform="translate(113.8 633.6)" clip-path="url(#hc)"><g transform="translate(2.0 0.0) scale(0.940)"><g filter="url(#soft)"><path d="M-11.4,13.4 L-12.2,34 L12.2,34 L11.4,13.4 Z" fill="#c08a62"/><ellipse cx="-18.3" cy="7.8" rx="3.1" ry="7.2" fill="#d9a27e" transform="rotate(8 -18.3 7.8)"/><ellipse cx="-18.4" cy="7.8" rx="1.3" ry="5.2" fill="#b98058" fill-opacity="0.5"/><ellipse cx="18.3" cy="7.8" rx="3.1" ry="7.2" fill="#d9a27e" transform="rotate(-8 18.3 7.8)"/><ellipse cx="18.4" cy="7.8" rx="1.3" ry="5.2" fill="#b98058" fill-opacity="0.5"/><path d="M-16.8,1 C-17.1,-18.5 -12.8,-23.5 0,-23.5 C12.8,-23.5 17.1,-18.5 16.8,1 C16.8,8 16.2,13 14.0,16 C11.0,22 8.5,27.4 0,27.4 C-8.5,27.4 -11.0,22 -14.0,16 C-16.2,13 -16.8,8 -16.8,1 Z" fill="url(#sk_wei)"/><path d="M-16.8,-6 C-16.8,6 -15.8,16 -10.0,21 C-12.2,14 -13.4,4 -13.4,-6 Z" fill="#b98058" fill-opacity="0.45"/><path d="M16.8,-6 C16.8,6 15.8,16 10.0,21 C12.2,14 13.4,4 13.4,-6 Z" fill="#b98058" fill-opacity="0.45"/><path d="M-17.2,0 C-22,-8 -22.6,-20 -16.6,-27 C-10,-33.2 8,-33.6 15.4,-27.8 C22.2,-21.4 22.6,-9 17.4,0 C17.8,-7 16.4,-12.4 12.4,-15.6 C8,-17.6 3,-16.2 0,-17.4 C-4,-19 -9,-17.6 -12.6,-15 C-15.8,-12.2 -17,-6.6 -17.2,0 Z" fill="url(#hr_wei)"/><path d="M-11,-20.4 C-6,-24.4 2,-24.8 8,-22 M-13,-25 C-6,-29.6 6,-29.8 13,-24.6" fill="none" stroke="#bd8a4e" stroke-width="1.5" stroke-linecap="round" stroke-opacity="0.75"/><path d="M-19,-12 C-19,-18 -16,-24 -11,-28 M16,-25 C19.6,-20 20.4,-13 19,-7" fill="none" stroke="#5e3e22" stroke-width="1.3" stroke-linecap="round" stroke-opacity="0.6"/><ellipse cx="-8.4" cy="-4.2" rx="4.6" ry="2.6" fill="#b98058" fill-opacity="0.38"/><ellipse cx="7.4" cy="-4.2" rx="4.6" ry="2.6" fill="#b98058" fill-opacity="0.38"/><path d="M-13.2,-6.7 q4,-2.3 8.8,-0.5 M3.4,-7.4 q4.8,-1.8 8.8,0.5" fill="none" stroke="#8a623e" stroke-width="1.5" stroke-linecap="round" stroke-opacity="0.90"/><path d="M-11.6,-4.5 q3.2,-1.5 6.4,0 M4.2,-4.5 q3.2,-1.5 6.4,0" fill="none" stroke="#5e4028" stroke-width="0.9" stroke-opacity="0.7"/><ellipse cx="-8.4" cy="-3.6" rx="2.6" ry="1.35" fill="#efe6de"/><circle cx="-8.4" cy="-3.5" r="1.3" fill="#5a8098"/><ellipse cx="7.4" cy="-3.6" rx="2.6" ry="1.35" fill="#efe6de"/><circle cx="7.4" cy="-3.5" r="1.3" fill="#5a8098"/><path d="M-3.6,6.8 C-2.4,8.3 2.6,8.3 3.8,6.8" fill="none" stroke="#a36c48" stroke-width="1.3" stroke-linecap="round" stroke-opacity="0.8"/><path d="M-2.2,-2.1 C-3.2,1.4 -4.2,4.8 -3.8,6.4" fill="none" stroke="#a36c48" stroke-width="0.9" stroke-linecap="round" stroke-opacity="0.45"/><ellipse cx="0.3" cy="2.8" rx="1.7" ry="4.2" fill="#fff" fill-opacity="0.35"/><ellipse cx="0" cy="-8.5" rx="10.8" ry="5" fill="#fff" fill-opacity="0.16"/><path d="M-6.4,14.2 C-3,12 -1.2,12.5 0,13.1 C1.2,12.5 3,12 5.8,14.2 C3,17.2 -3.4,17.2 -6.4,14.2 Z" fill="#c7807a"/><path d="M-6.4,14.2 C-2,14.9 2,14.9 5.8,14.2" fill="none" stroke="#94544a" stroke-width="0.8"/></g></g></g>
<circle cx="1046.5" cy="633.6" r="27.5" fill="#f569c3"/>
<g transform="translate(1046.5 633.6)" clip-path="url(#hc)"><g transform="translate(0.4 0.8) scale(0.960)"><g filter="url(#soft)"><path d="M-11.4,13.8 L-12.2,34 L12.2,34 L11.4,13.8 Z" fill="#c99678"/><ellipse cx="-18.3" cy="3.8" rx="3.1" ry="6.8" fill="#c88c72" transform="rotate(8 -18.3 3.8)"/><ellipse cx="-18.4" cy="3.8" rx="1.3" ry="4.8" fill="#c48e70" fill-opacity="0.5"/><ellipse cx="18.3" cy="3.8" rx="3.1" ry="6.8" fill="#c88c72" transform="rotate(-8 18.3 3.8)"/><ellipse cx="18.4" cy="3.8" rx="1.3" ry="4.8" fill="#c48e70" fill-opacity="0.5"/><path d="M-16.8,1 C-17.1,-18.5 -12.8,-23.5 0,-23.5 C12.8,-23.5 17.1,-18.5 16.8,1 C16.8,8 16.2,13 14.6,16 C11.6,22 8.5,27.8 0,27.8 C-8.5,27.8 -11.6,22 -14.6,16 C-16.2,13 -16.8,8 -16.8,1 Z" fill="url(#sk_hav)"/><path d="M-16.8,-6 C-16.8,6 -15.8,16 -10.6,21 C-12.2,14 -13.4,4 -13.4,-6 Z" fill="#c48e70" fill-opacity="0.45"/><path d="M16.8,-6 C16.8,6 15.8,16 10.6,21 C12.2,14 13.4,4 13.4,-6 Z" fill="#c48e70" fill-opacity="0.45"/><path d="M-16.4,6 C-15.8,15 -12,22.6 -6,26.8 C-3,28.6 3,28.6 6,26.8 C12,22.6 16,15 16.6,6 C14.6,14 11,19 7.4,20.4 C4,16.4 -4,16.4 -7.4,20.4 C-11,19 -14.6,14 -16.4,6 Z" fill="#3a2a22" fill-opacity="0.66"/><path d="M-9,12.2 C-4,9.6 4.6,9.6 10.4,12.2 C5,11.2 -4,11.2 -9,12.2 Z" fill="#3a2a22" fill-opacity="0.6" stroke="#3a2a22" stroke-opacity="0.5" stroke-width="1"/><path d="M-16.8,-1.5 C-21.4,-10 -21.6,-21 -15.8,-27.6 C-9,-34.2 9,-34.2 15.8,-27.6 C21,-21 21.2,-10 17.6,-1.5 C17.4,-8 16.8,-13 14.2,-17.4 C9,-19.8 2,-18.8 -4,-16.2 C-8,-14.4 -11.6,-12.8 -13.8,-9 C-15.8,-6 -16.6,-4 -16.8,-1.5 Z" fill="url(#hr_hav)"/><path d="M-9,-27 C-3,-30.4 6,-29.8 11.6,-25.8 M-14,-20 C-9,-24.6 -2,-26 5,-24.6" fill="none" stroke="#55463c" stroke-width="1.2" stroke-linecap="round" stroke-opacity="0.75"/><ellipse cx="-7.8" cy="-2.6" rx="4.6" ry="2.6" fill="#c48e70" fill-opacity="0.38"/><ellipse cx="8.0" cy="-2.6" rx="4.6" ry="2.6" fill="#c48e70" fill-opacity="0.38"/><path d="M-12.6,-5.5 q4,-2.3 8.8,-0.5 M4.0,-6.2 q4.8,-1.8 8.8,0.5" fill="none" stroke="#1d1612" stroke-width="2.4" stroke-linecap="round" stroke-opacity="1.00"/><path d="M-11.0,-2.9 q3.2,-1.5 6.4,0 M4.8,-2.9 q3.2,-1.5 6.4,0" fill="none" stroke="#2a201a" stroke-width="0.9" stroke-opacity="0.7"/><ellipse cx="-7.8" cy="-2.0" rx="2.6" ry="1.35" fill="#f1e9e4"/><circle cx="-7.8" cy="-1.9" r="1.3" fill="#465c6a"/><ellipse cx="8.0" cy="-2.0" rx="2.6" ry="1.35" fill="#f1e9e4"/><circle cx="8.0" cy="-1.9" r="1.3" fill="#465c6a"/><path d="M-3.6,7.6 C-2.4,9.1 2.6,9.1 3.8,7.6" fill="none" stroke="#b27e60" stroke-width="1.3" stroke-linecap="round" stroke-opacity="0.8"/><path d="M-2.2,-0.5 C-3.2,2.2 -4.2,5.6 -3.8,7.2" fill="none" stroke="#b27e60" stroke-width="0.9" stroke-linecap="round" stroke-opacity="0.45"/><ellipse cx="0.3" cy="3.6" rx="1.7" ry="4.2" fill="#fff" fill-opacity="0.35"/><ellipse cx="0" cy="-8.5" rx="10.8" ry="5" fill="#fff" fill-opacity="0.16"/><path d="M-7.8,12.6 C-3,12 5,12 9.8,12.4 C8.2,17.8 4,19.2 1,19.2 C-2.4,19.2 -6.2,17.8 -7.8,12.6 Z" fill="#c16a6e"/><path d="M-6.4,13.1 C-2,12.7 4.4,12.7 8.4,13 C6.8,16.6 3.6,17.4 1,17.4 C-1.8,17.4 -5,16.6 -6.4,13.1 Z" fill="#fdfcfa"/></g></g></g>
</g>
<g>
<rect x="40.3" y="711.05" width="1838.5" height="2.3" fill="#d5d5d5"/>
<rect x="55.95" y="696.50" width="2.5" height="32.00" fill="#d3d3d3"/>
<rect x="206.20" y="696.50" width="2.5" height="32.00" fill="#d3d3d3"/>
<rect x="356.45" y="696.50" width="2.5" height="32.00" fill="#d3d3d3"/>
<rect x="506.70" y="696.50" width="2.5" height="32.00" fill="#d3d3d3"/>
<rect x="656.95" y="696.50" width="2.5" height="32.00" fill="#d3d3d3"/>
<rect x="807.20" y="696.50" width="2.5" height="32.00" fill="#d3d3d3"/>
<rect x="957.45" y="696.50" width="2.5" height="32.00" fill="#d3d3d3"/>
<rect x="1107.70" y="696.50" width="2.5" height="32.00" fill="#d3d3d3"/>
<rect x="1257.95" y="696.50" width="2.5" height="32.00" fill="#d3d3d3"/>
<rect x="1408.20" y="696.50" width="2.5" height="32.00" fill="#d3d3d3"/>
<rect x="1558.45" y="696.50" width="2.5" height="32.00" fill="#d3d3d3"/>
<rect x="1708.70" y="696.50" width="2.5" height="32.00" fill="#d3d3d3"/>
<rect x="1858.95" y="696.50" width="2.5" height="32.00" fill="#d3d3d3"/>
<rect x="752.5" y="704.90" width="850.0" height="14.6" fill="#000" fill-opacity="0.125"/>
<rect x="752.5" y="710.70" width="850.0" height="3" fill="#b9b9b9"/>
<rect x="806.90" y="704.90" width="3.1" height="14.6" fill="#bbbbbb"/>
<rect x="957.15" y="704.90" width="3.1" height="14.6" fill="#bbbbbb"/>
<rect x="1107.40" y="704.90" width="3.1" height="14.6" fill="#bbbbbb"/>
<rect x="1257.65" y="704.90" width="3.1" height="14.6" fill="#bbbbbb"/>
<rect x="1407.90" y="704.90" width="3.1" height="14.6" fill="#bbbbbb"/>
<rect x="1558.15" y="704.90" width="3.1" height="14.6" fill="#bbbbbb"/>
<rect x="752.5" y="711.55" width="850.0" height="1.3" fill="#d6d6d6"/>
<rect x="807.80" y="704.90" width="1.3" height="14.6" fill="#d6d6d6"/>
<rect x="958.05" y="704.90" width="1.3" height="14.6" fill="#d6d6d6"/>
<rect x="1108.30" y="704.90" width="1.3" height="14.6" fill="#d6d6d6"/>
<rect x="1258.55" y="704.90" width="1.3" height="14.6" fill="#d6d6d6"/>
<rect x="1408.80" y="704.90" width="1.3" height="14.6" fill="#d6d6d6"/>
<rect x="1559.05" y="704.90" width="1.3" height="14.6" fill="#d6d6d6"/>
<circle cx="819.0" cy="712.2" r="11.9" fill="#a236a4"/>
<circle cx="913.0" cy="712.2" r="11.9" fill="#f76bc4"/>
<circle cx="970.5" cy="712.2" r="11.9" fill="#333333"/>
<circle cx="752.5" cy="712.2" r="27.5" fill="#00c800"/>
<g transform="translate(752.5 712.2)" clip-path="url(#hc)"><g transform="translate(0.8 1.1) scale(0.980)"><g filter="url(#soft)"><path d="M-12.6,11.4 L-13.4,34 L13.4,34 L12.6,11.4 Z" fill="#ecccc1"/><ellipse cx="-18.5" cy="0.8" rx="3.1" ry="7.2" fill="#ee8e70" transform="rotate(8 -18.5 0.8)"/><ellipse cx="-18.6" cy="0.8" rx="1.3" ry="5.2" fill="#dcb0a2" fill-opacity="0.5"/><ellipse cx="18.5" cy="0.8" rx="3.1" ry="7.2" fill="#ee8e70" transform="rotate(-8 18.5 0.8)"/><ellipse cx="18.6" cy="0.8" rx="1.3" ry="5.2" fill="#dcb0a2" fill-opacity="0.5"/><path d="M-17.0,1 C-17.3,-18.5 -13.0,-23.5 0,-23.5 C13.0,-23.5 17.3,-18.5 17.0,1 C17.0,8 16.4,13 14.2,16 C11.2,22 8.5,25.4 0,25.4 C-8.5,25.4 -11.2,22 -14.2,16 C-16.4,13 -17.0,8 -17.0,1 Z" fill="url(#sk_har)"/><path d="M-17.0,-6 C-17.0,6 -16.0,16 -10.2,21 C-12.4,14 -13.6,4 -13.6,-6 Z" fill="#dcb0a2" fill-opacity="0.45"/><path d="M17.0,-6 C17.0,6 16.0,16 10.2,21 C12.4,14 13.6,4 13.6,-6 Z" fill="#dcb0a2" fill-opacity="0.45"/><path d="M-17.4,-2 C-20.2,-10 -19.8,-20 -14.8,-26 C-9,-32 9,-32.4 14.8,-26.6 C19.8,-21 20.6,-10 17.6,-2 C17.6,-8 16,-13.4 12,-15.8 C6,-17.8 -5,-18 -11.4,-15.8 C-15.6,-13.4 -17.2,-8 -17.4,-2 Z" fill="url(#hr_har)"/><path d="M-12,-22 C-6,-27.5 6,-28 12,-23 M-14,-17.4 C-8,-21.6 6,-22.4 13.6,-17.8 M-4,-29.4 C2,-30.4 8,-28.6 12,-25.4" fill="none" stroke="#e8dcc0" stroke-width="1.5" stroke-linecap="round" stroke-opacity="0.75"/><path d="M-16,-14 C-13,-18.6 -7,-20 -2,-19.6 M3,-25 C8,-24.6 12,-22 14.6,-18 M-8,-26 l3,-1.4 M1,-27.6 l3,0.4 M-13,-21 l2.6,-1.8 M9,-20.6 l2.4,1.6 M-3,-22.6 l2.6,-0.6" fill="none" stroke="#7d6848" stroke-width="1.3" stroke-linecap="round" stroke-opacity="0.6"/><ellipse cx="-7.8" cy="-3.2" rx="4.6" ry="2.6" fill="#dcb0a2" fill-opacity="0.38"/><ellipse cx="7.4" cy="-3.2" rx="4.6" ry="2.6" fill="#dcb0a2" fill-opacity="0.38"/><path d="M-12.6,-5.7 q4,-2.3 8.8,-0.5 M3.4,-6.4 q4.8,-1.8 8.8,0.5" fill="none" stroke="#b09a80" stroke-width="1.5" stroke-linecap="round" stroke-opacity="0.70"/><path d="M-11.0,-3.5 q3.2,-1.5 6.4,0 M4.2,-3.5 q3.2,-1.5 6.4,0" fill="none" stroke="#8a7464" stroke-width="0.9" stroke-opacity="0.7"/><ellipse cx="-7.8" cy="-2.6" rx="2.6" ry="1.35" fill="#f2ecea"/><circle cx="-7.8" cy="-2.5" r="1.3" fill="#5d7c9c"/><ellipse cx="7.4" cy="-2.6" rx="2.6" ry="1.35" fill="#f2ecea"/><circle cx="7.4" cy="-2.5" r="1.3" fill="#5d7c9c"/><path d="M-3.6,7.4 C-2.4,8.9 2.6,8.9 3.8,7.4" fill="none" stroke="#c49384" stroke-width="1.3" stroke-linecap="round" stroke-opacity="0.8"/><path d="M-2.2,-1.1 C-3.2,2.0 -4.2,5.4 -3.8,7.0" fill="none" stroke="#c49384" stroke-width="0.9" stroke-linecap="round" stroke-opacity="0.45"/><ellipse cx="0.3" cy="3.4" rx="1.7" ry="4.2" fill="#fff" fill-opacity="0.35"/><ellipse cx="0" cy="-8.5" rx="11.0" ry="5" fill="#fff" fill-opacity="0.16"/><path d="M-6.2,13 C-3,11.4 3,11.4 6.2,13 C3.6,16.8 -3.6,16.8 -6.2,13 Z" fill="#c57e80"/><path d="M-4.6,13.2 C-2,12.5 2,12.5 4.6,13.2 C2,14.9 -2,14.9 -4.6,13.2 Z" fill="#f6f1f1"/></g></g></g>
<circle cx="1602.5" cy="712.2" r="27.5" fill="#007a62"/>
<g transform="translate(1602.5 712.2)" clip-path="url(#hc)"><g transform="translate(0.0 0.0) scale(1.000)"><g filter="url(#soft)"><path d="M-16,-20 C-21,-14 -23.2,-6 -22.6,2 C-22.2,9 -21,16 -18.6,23 L-17.4,17 L-15,-6 Z M16,-22 C21.6,-16 24.6,-7 24.2,2 C23.8,9 21.6,17 18.4,23 L17.4,16 L15,-6 Z" fill="#73543a"/><path d="M-11.9,13.4 L-12.7,34 L12.7,34 L11.9,13.4 Z" fill="#d2a186"/><ellipse cx="-18.8" cy="6.5" rx="3.1" ry="6.0" fill="#ecc7b2" transform="rotate(8 -18.8 6.5)"/><ellipse cx="-18.9" cy="6.5" rx="1.3" ry="4.0" fill="#cf9c82" fill-opacity="0.5"/><ellipse cx="18.8" cy="6.5" rx="3.1" ry="6.0" fill="#ecc7b2" transform="rotate(-8 18.8 6.5)"/><ellipse cx="18.9" cy="6.5" rx="1.3" ry="4.0" fill="#cf9c82" fill-opacity="0.5"/><path d="M-17.3,1 C-17.6,-22.5 -13.3,-27.5 0,-27.5 C13.3,-27.5 17.6,-22.5 17.3,1 C17.3,8 16.7,13 14.6,16 C11.6,22 8.5,27.4 0,27.4 C-8.5,27.4 -11.6,22 -14.6,16 C-16.7,13 -17.3,8 -17.3,1 Z" fill="url(#sk_wol)"/><path d="M-17.3,-6 C-17.3,6 -16.3,16 -10.6,21 C-12.7,14 -13.9,4 -13.9,-6 Z" fill="#cf9c82" fill-opacity="0.45"/><path d="M17.3,-6 C17.3,6 16.3,16 10.6,21 C12.7,14 13.9,4 13.9,-6 Z" fill="#cf9c82" fill-opacity="0.45"/><path d="M-7.6,20.4 C-4,18.6 4,18.6 7.6,20.4 C9.4,23.6 7,28.6 0,29 C-7,28.6 -9.4,23.6 -7.6,20.4 Z" fill="#8a5e40" fill-opacity="0.62"/><path d="M-13,16 C-11,22 -7,26.4 0,27.6 C7,26.4 11,22 13,16 C10.6,21.4 6,24.6 0,25 C-6,24.6 -10.6,21.4 -13,16 Z" fill="#a9795c" fill-opacity="0.35"/><path d="M-17.8,-1 C-19.6,-8 -19.6,-17 -15.6,-23.6 C-11.6,-29.6 -4,-32.8 3,-32.6 C9,-32.4 13.4,-30 16.4,-26 C20,-21 21.6,-12 20,-5 L17.8,0 C17.8,-6 16.4,-11 13.4,-15 C10,-19.4 4,-21.4 -2,-20.8 C-8,-20.2 -13,-17 -15.4,-11.6 C-16.8,-8 -17.6,-4.6 -17.8,-1 Z" fill="url(#hr_wol)"/><path d="M-11,-24.6 C-5,-29 4,-29.6 11,-25.4 M-14.6,-17.6 C-10,-23 -2,-25.4 6,-24.4 M9,-27 C13.6,-24 16.6,-19 18,-12" fill="none" stroke="#b8976a" stroke-width="1.5" stroke-linecap="round" stroke-opacity="0.75"/><path d="M-17,-12 C-15,-19 -9,-23.4 -2,-23.6 M12,-21.6 C15.6,-18 17.6,-13 18.6,-8" fill="none" stroke="#54402c" stroke-width="1.3" stroke-linecap="round" stroke-opacity="0.6"/><ellipse cx="-9.0" cy="-3.5" rx="4.6" ry="2.6" fill="#cf9c82" fill-opacity="0.38"/><ellipse cx="7.8" cy="-3.5" rx="4.6" ry="2.6" fill="#cf9c82" fill-opacity="0.38"/><path d="M-13.8,-6.3 q4,-2.3 8.8,-0.5 M3.8,-7.0 q4.8,-1.8 8.8,0.5" fill="none" stroke="#94724e" stroke-width="1.5" stroke-linecap="round" stroke-opacity="0.75"/><path d="M-12.2,-3.8 q3.2,-1.5 6.4,0 M4.6,-3.8 q3.2,-1.5 6.4,0" fill="none" stroke="#6a4c36" stroke-width="0.9" stroke-opacity="0.7"/><ellipse cx="-9.0" cy="-2.9" rx="2.6" ry="1.35" fill="#f6efeb"/><circle cx="-9.0" cy="-2.8" r="1.3" fill="#2f4272"/><ellipse cx="7.8" cy="-2.9" rx="2.6" ry="1.35" fill="#f6efeb"/><circle cx="7.8" cy="-2.8" r="1.3" fill="#2f4272"/><path d="M-3.6,5.8 C-2.4,7.3 2.6,7.3 3.8,5.8" fill="none" stroke="#b27c60" stroke-width="1.3" stroke-linecap="round" stroke-opacity="0.8"/><path d="M-2.2,-1.4 C-3.2,0.4 -4.2,3.8 -3.8,5.4" fill="none" stroke="#b27c60" stroke-width="0.9" stroke-linecap="round" stroke-opacity="0.45"/><ellipse cx="0.3" cy="1.8" rx="1.7" ry="4.2" fill="#fff" fill-opacity="0.35"/><ellipse cx="0" cy="-12.5" rx="11.3" ry="5" fill="#fff" fill-opacity="0.16"/><path d="M-9.4,11.9 C-6,8.6 -2,8.7 0,9.6 C2,8.7 6,8.6 9.2,11.9 C5.6,10.5 2.6,10.7 0,11.1 C-2.6,10.7 -5.6,10.5 -9.4,11.9 Z" fill="#8a5434" stroke="#8a5434" stroke-width="0.7"/><path d="M-5.6,12.2 C-2,11.5 2,11.5 5.6,12.2 C3,15.2 -3,15.2 -5.6,12.2 Z" fill="#d98a8c"/></g></g></g>
</g>
<g>
<rect x="40.3" y="786.35" width="1838.5" height="2.3" fill="#d5d5d5"/>
<rect x="55.95" y="770.00" width="2.5" height="34.70" fill="#d3d3d3"/>
<rect x="206.20" y="770.00" width="2.5" height="34.70" fill="#d3d3d3"/>
<rect x="356.45" y="770.00" width="2.5" height="34.70" fill="#d3d3d3"/>
<rect x="506.70" y="770.00" width="2.5" height="34.70" fill="#d3d3d3"/>
<rect x="656.95" y="770.00" width="2.5" height="34.70" fill="#d3d3d3"/>
<rect x="807.20" y="770.00" width="2.5" height="34.70" fill="#d3d3d3"/>
<rect x="957.45" y="770.00" width="2.5" height="34.70" fill="#d3d3d3"/>
<rect x="1107.70" y="770.00" width="2.5" height="34.70" fill="#d3d3d3"/>
<rect x="1257.95" y="770.00" width="2.5" height="34.70" fill="#d3d3d3"/>
<rect x="1408.20" y="770.00" width="2.5" height="34.70" fill="#d3d3d3"/>
<rect x="1558.45" y="770.00" width="2.5" height="34.70" fill="#d3d3d3"/>
<rect x="1708.70" y="770.00" width="2.5" height="34.70" fill="#d3d3d3"/>
<rect x="1858.95" y="770.00" width="2.5" height="34.70" fill="#d3d3d3"/>
<rect x="464.0" y="780.20" width="632.5" height="14.6" fill="#000" fill-opacity="0.125"/>
<rect x="464.0" y="786.00" width="632.5" height="3" fill="#b9b9b9"/>
<rect x="506.40" y="780.20" width="3.1" height="14.6" fill="#bbbbbb"/>
<rect x="656.65" y="780.20" width="3.1" height="14.6" fill="#bbbbbb"/>
<rect x="806.90" y="780.20" width="3.1" height="14.6" fill="#bbbbbb"/>
<rect x="957.15" y="780.20" width="3.1" height="14.6" fill="#bbbbbb"/>
<rect x="464.0" y="786.85" width="632.5" height="1.3" fill="#d6d6d6"/>
<rect x="507.30" y="780.20" width="1.3" height="14.6" fill="#d6d6d6"/>
<rect x="657.55" y="780.20" width="1.3" height="14.6" fill="#d6d6d6"/>
<rect x="807.80" y="780.20" width="1.3" height="14.6" fill="#d6d6d6"/>
<rect x="958.05" y="780.20" width="1.3" height="14.6" fill="#d6d6d6"/>
<circle cx="501.5" cy="787.5" r="11.9" fill="#333333"/>
<circle cx="641.0" cy="787.5" r="11.9" fill="#a236a4"/>
<circle cx="997.5" cy="787.5" r="11.9" fill="#00855a"/>
<circle cx="464.0" cy="787.5" r="27.5" fill="#00c800"/>
<g transform="translate(464.0 787.5)" clip-path="url(#hc)"><g transform="translate(0.8 1.1) scale(0.980)"><g filter="url(#soft)"><path d="M-12.6,11.4 L-13.4,34 L13.4,34 L12.6,11.4 Z" fill="#ecccc1"/><ellipse cx="-18.5" cy="0.8" rx="3.1" ry="7.2" fill="#ee8e70" transform="rotate(8 -18.5 0.8)"/><ellipse cx="-18.6" cy="0.8" rx="1.3" ry="5.2" fill="#dcb0a2" fill-opacity="0.5"/><ellipse cx="18.5" cy="0.8" rx="3.1" ry="7.2" fill="#ee8e70" transform="rotate(-8 18.5 0.8)"/><ellipse cx="18.6" cy="0.8" rx="1.3" ry="5.2" fill="#dcb0a2" fill-opacity="0.5"/><path d="M-17.0,1 C-17.3,-18.5 -13.0,-23.5 0,-23.5 C13.0,-23.5 17.3,-18.5 17.0,1 C17.0,8 16.4,13 14.2,16 C11.2,22 8.5,25.4 0,25.4 C-8.5,25.4 -11.2,22 -14.2,16 C-16.4,13 -17.0,8 -17.0,1 Z" fill="url(#sk_har)"/><path d="M-17.0,-6 C-17.0,6 -16.0,16 -10.2,21 C-12.4,14 -13.6,4 -13.6,-6 Z" fill="#dcb0a2" fill-opacity="0.45"/><path d="M17.0,-6 C17.0,6 16.0,16 10.2,21 C12.4,14 13.6,4 13.6,-6 Z" fill="#dcb0a2" fill-opacity="0.45"/><path d="M-17.4,-2 C-20.2,-10 -19.8,-20 -14.8,-26 C-9,-32 9,-32.4 14.8,-26.6 C19.8,-21 20.6,-10 17.6,-2 C17.6,-8 16,-13.4 12,-15.8 C6,-17.8 -5,-18 -11.4,-15.8 C-15.6,-13.4 -17.2,-8 -17.4,-2 Z" fill="url(#hr_har)"/><path d="M-12,-22 C-6,-27.5 6,-28 12,-23 M-14,-17.4 C-8,-21.6 6,-22.4 13.6,-17.8 M-4,-29.4 C2,-30.4 8,-28.6 12,-25.4" fill="none" stroke="#e8dcc0" stroke-width="1.5" stroke-linecap="round" stroke-opacity="0.75"/><path d="M-16,-14 C-13,-18.6 -7,-20 -2,-19.6 M3,-25 C8,-24.6 12,-22 14.6,-18 M-8,-26 l3,-1.4 M1,-27.6 l3,0.4 M-13,-21 l2.6,-1.8 M9,-20.6 l2.4,1.6 M-3,-22.6 l2.6,-0.6" fill="none" stroke="#7d6848" stroke-width="1.3" stroke-linecap="round" stroke-opacity="0.6"/><ellipse cx="-7.8" cy="-3.2" rx="4.6" ry="2.6" fill="#dcb0a2" fill-opacity="0.38"/><ellipse cx="7.4" cy="-3.2" rx="4.6" ry="2.6" fill="#dcb0a2" fill-opacity="0.38"/><path d="M-12.6,-5.7 q4,-2.3 8.8,-0.5 M3.4,-6.4 q4.8,-1.8 8.8,0.5" fill="none" stroke="#b09a80" stroke-width="1.5" stroke-linecap="round" stroke-opacity="0.70"/><path d="M-11.0,-3.5 q3.2,-1.5 6.4,0 M4.2,-3.5 q3.2,-1.5 6.4,0" fill="none" stroke="#8a7464" stroke-width="0.9" stroke-opacity="0.7"/><ellipse cx="-7.8" cy="-2.6" rx="2.6" ry="1.35" fill="#f2ecea"/><circle cx="-7.8" cy="-2.5" r="1.3" fill="#5d7c9c"/><ellipse cx="7.4" cy="-2.6" rx="2.6" ry="1.35" fill="#f2ecea"/><circle cx="7.4" cy="-2.5" r="1.3" fill="#5d7c9c"/><path d="M-3.6,7.4 C-2.4,8.9 2.6,8.9 3.8,7.4" fill="none" stroke="#c49384" stroke-width="1.3" stroke-linecap="round" stroke-opacity="0.8"/><path d="M-2.2,-1.1 C-3.2,2.0 -4.2,5.4 -3.8,7.0" fill="none" stroke="#c49384" stroke-width="0.9" stroke-linecap="round" stroke-opacity="0.45"/><ellipse cx="0.3" cy="3.4" rx="1.7" ry="4.2" fill="#fff" fill-opacity="0.35"/><ellipse cx="0" cy="-8.5" rx="11.0" ry="5" fill="#fff" fill-opacity="0.16"/><path d="M-6.2,13 C-3,11.4 3,11.4 6.2,13 C3.6,16.8 -3.6,16.8 -6.2,13 Z" fill="#c57e80"/><path d="M-4.6,13.2 C-2,12.5 2,12.5 4.6,13.2 C2,14.9 -2,14.9 -4.6,13.2 Z" fill="#f6f1f1"/></g></g></g>
<circle cx="1096.5" cy="787.5" r="27.5" fill="#f569c3"/>
<g transform="translate(1096.5 787.5)" clip-path="url(#hc)"><g transform="translate(0.4 0.8) scale(0.960)"><g filter="url(#soft)"><path d="M-11.4,13.8 L-12.2,34 L12.2,34 L11.4,13.8 Z" fill="#c99678"/><ellipse cx="-18.3" cy="3.8" rx="3.1" ry="6.8" fill="#c88c72" transform="rotate(8 -18.3 3.8)"/><ellipse cx="-18.4" cy="3.8" rx="1.3" ry="4.8" fill="#c48e70" fill-opacity="0.5"/><ellipse cx="18.3" cy="3.8" rx="3.1" ry="6.8" fill="#c88c72" transform="rotate(-8 18.3 3.8)"/><ellipse cx="18.4" cy="3.8" rx="1.3" ry="4.8" fill="#c48e70" fill-opacity="0.5"/><path d="M-16.8,1 C-17.1,-18.5 -12.8,-23.5 0,-23.5 C12.8,-23.5 17.1,-18.5 16.8,1 C16.8,8 16.2,13 14.6,16 C11.6,22 8.5,27.8 0,27.8 C-8.5,27.8 -11.6,22 -14.6,16 C-16.2,13 -16.8,8 -16.8,1 Z" fill="url(#sk_hav)"/><path d="M-16.8,-6 C-16.8,6 -15.8,16 -10.6,21 C-12.2,14 -13.4,4 -13.4,-6 Z" fill="#c48e70" fill-opacity="0.45"/><path d="M16.8,-6 C16.8,6 15.8,16 10.6,21 C12.2,14 13.4,4 13.4,-6 Z" fill="#c48e70" fill-opacity="0.45"/><path d="M-16.4,6 C-15.8,15 -12,22.6 -6,26.8 C-3,28.6 3,28.6 6,26.8 C12,22.6 16,15 16.6,6 C14.6,14 11,19 7.4,20.4 C4,16.4 -4,16.4 -7.4,20.4 C-11,19 -14.6,14 -16.4,6 Z" fill="#3a2a22" fill-opacity="0.66"/><path d="M-9,12.2 C-4,9.6 4.6,9.6 10.4,12.2 C5,11.2 -4,11.2 -9,12.2 Z" fill="#3a2a22" fill-opacity="0.6" stroke="#3a2a22" stroke-opacity="0.5" stroke-width="1"/><path d="M-16.8,-1.5 C-21.4,-10 -21.6,-21 -15.8,-27.6 C-9,-34.2 9,-34.2 15.8,-27.6 C21,-21 21.2,-10 17.6,-1.5 C17.4,-8 16.8,-13 14.2,-17.4 C9,-19.8 2,-18.8 -4,-16.2 C-8,-14.4 -11.6,-12.8 -13.8,-9 C-15.8,-6 -16.6,-4 -16.8,-1.5 Z" fill="url(#hr_hav)"/><path d="M-9,-27 C-3,-30.4 6,-29.8 11.6,-25.8 M-14,-20 C-9,-24.6 -2,-26 5,-24.6" fill="none" stroke="#55463c" stroke-width="1.2" stroke-linecap="round" stroke-opacity="0.75"/><ellipse cx="-7.8" cy="-2.6" rx="4.6" ry="2.6" fill="#c48e70" fill-opacity="0.38"/><ellipse cx="8.0" cy="-2.6" rx="4.6" ry="2.6" fill="#c48e70" fill-opacity="0.38"/><path d="M-12.6,-5.5 q4,-2.3 8.8,-0.5 M4.0,-6.2 q4.8,-1.8 8.8,0.5" fill="none" stroke="#1d1612" stroke-width="2.4" stroke-linecap="round" stroke-opacity="1.00"/><path d="M-11.0,-2.9 q3.2,-1.5 6.4,0 M4.8,-2.9 q3.2,-1.5 6.4,0" fill="none" stroke="#2a201a" stroke-width="0.9" stroke-opacity="0.7"/><ellipse cx="-7.8" cy="-2.0" rx="2.6" ry="1.35" fill="#f1e9e4"/><circle cx="-7.8" cy="-1.9" r="1.3" fill="#465c6a"/><ellipse cx="8.0" cy="-2.0" rx="2.6" ry="1.35" fill="#f1e9e4"/><circle cx="8.0" cy="-1.9" r="1.3" fill="#465c6a"/><path d="M-3.6,7.6 C-2.4,9.1 2.6,9.1 3.8,7.6" fill="none" stroke="#b27e60" stroke-width="1.3" stroke-linecap="round" stroke-opacity="0.8"/><path d="M-2.2,-0.5 C-3.2,2.2 -4.2,5.6 -3.8,7.2" fill="none" stroke="#b27e60" stroke-width="0.9" stroke-linecap="round" stroke-opacity="0.45"/><ellipse cx="0.3" cy="3.6" rx="1.7" ry="4.2" fill="#fff" fill-opacity="0.35"/><ellipse cx="0" cy="-8.5" rx="10.8" ry="5" fill="#fff" fill-opacity="0.16"/><path d="M-7.8,12.6 C-3,12 5,12 9.8,12.4 C8.2,17.8 4,19.2 1,19.2 C-2.4,19.2 -6.2,17.8 -7.8,12.6 Z" fill="#c16a6e"/><path d="M-6.4,13.1 C-2,12.7 4.4,12.7 8.4,13 C6.8,16.6 3.6,17.4 1,17.4 C-1.8,17.4 -5,16.6 -6.4,13.1 Z" fill="#fdfcfa"/></g></g></g>
</g>
<g>
<rect x="40.3" y="867.25" width="1838.5" height="2.3" fill="#d5d5d5"/>
<rect x="55.95" y="851.50" width="2.5" height="33.30" fill="#d3d3d3"/>
<rect x="206.20" y="851.50" width="2.5" height="33.30" fill="#d3d3d3"/>
<rect x="356.45" y="851.50" width="2.5" height="33.30" fill="#d3d3d3"/>
<rect x="506.70" y="851.50" width="2.5" height="33.30" fill="#d3d3d3"/>
<rect x="656.95" y="851.50" width="2.5" height="33.30" fill="#d3d3d3"/>
<rect x="807.20" y="851.50" width="2.5" height="33.30" fill="#d3d3d3"/>
<rect x="957.45" y="851.50" width="2.5" height="33.30" fill="#d3d3d3"/>
<rect x="1107.70" y="851.50" width="2.5" height="33.30" fill="#d3d3d3"/>
<rect x="1257.95" y="851.50" width="2.5" height="33.30" fill="#d3d3d3"/>
<rect x="1408.20" y="851.50" width="2.5" height="33.30" fill="#d3d3d3"/>
<rect x="1558.45" y="851.50" width="2.5" height="33.30" fill="#d3d3d3"/>
<rect x="1708.70" y="851.50" width="2.5" height="33.30" fill="#d3d3d3"/>
<rect x="1858.95" y="851.50" width="2.5" height="33.30" fill="#d3d3d3"/>
<rect x="733.5" y="861.10" width="1048.0" height="14.6" fill="#000" fill-opacity="0.125"/>
<rect x="733.5" y="866.90" width="1048.0" height="3" fill="#b9b9b9"/>
<rect x="806.90" y="861.10" width="3.1" height="14.6" fill="#bbbbbb"/>
<rect x="957.15" y="861.10" width="3.1" height="14.6" fill="#bbbbbb"/>
<rect x="1107.40" y="861.10" width="3.1" height="14.6" fill="#bbbbbb"/>
<rect x="1257.65" y="861.10" width="3.1" height="14.6" fill="#bbbbbb"/>
<rect x="1407.90" y="861.10" width="3.1" height="14.6" fill="#bbbbbb"/>
<rect x="1558.15" y="861.10" width="3.1" height="14.6" fill="#bbbbbb"/>
<rect x="1708.40" y="861.10" width="3.1" height="14.6" fill="#bbbbbb"/>
<rect x="733.5" y="867.75" width="1048.0" height="1.3" fill="#d6d6d6"/>
<rect x="807.80" y="861.10" width="1.3" height="14.6" fill="#d6d6d6"/>
<rect x="958.05" y="861.10" width="1.3" height="14.6" fill="#d6d6d6"/>
<rect x="1108.30" y="861.10" width="1.3" height="14.6" fill="#d6d6d6"/>
<rect x="1258.55" y="861.10" width="1.3" height="14.6" fill="#d6d6d6"/>
<rect x="1408.80" y="861.10" width="1.3" height="14.6" fill="#d6d6d6"/>
<rect x="1559.05" y="861.10" width="1.3" height="14.6" fill="#d6d6d6"/>
<rect x="1709.30" y="861.10" width="1.3" height="14.6" fill="#d6d6d6"/>
<circle cx="831.0" cy="868.4" r="11.9" fill="#f76bc4"/>
<circle cx="872.0" cy="868.4" r="11.9" fill="#00c800"/>
<circle cx="1079.5" cy="868.4" r="11.9" fill="#333333"/>
<circle cx="733.5" cy="868.4" r="27.5" fill="#a033a0"/>
<g transform="translate(733.5 868.4)" clip-path="url(#hc)"><g transform="translate(0.0 2.1) scale(0.985)"><g filter="url(#soft)"><path d="M-11.0,12.6 L-11.8,34 L11.8,34 L11.0,12.6 Z" fill="#d29e7c"/><ellipse cx="-17.9" cy="2.6" rx="3.1" ry="6.3" fill="#dba584" transform="rotate(8 -17.9 2.6)"/><ellipse cx="-18.0" cy="2.6" rx="1.3" ry="4.3" fill="#c48a66" fill-opacity="0.5"/><ellipse cx="17.9" cy="2.6" rx="3.1" ry="6.3" fill="#dba584" transform="rotate(-8 17.9 2.6)"/><ellipse cx="18.0" cy="2.6" rx="1.3" ry="4.3" fill="#c48a66" fill-opacity="0.5"/><path d="M-16.4,1 C-16.7,-21.6 -12.4,-26.6 0,-26.6 C12.4,-26.6 16.7,-21.6 16.4,1 C16.4,8 15.8,13 14.4,16 C11.4,22 8.5,26.6 0,26.6 C-8.5,26.6 -11.4,22 -14.4,16 C-15.8,13 -16.4,8 -16.4,1 Z" fill="url(#sk_kle)"/><path d="M-16.4,-6 C-16.4,6 -15.4,16 -10.4,21 C-11.8,14 -13.0,4 -13.0,-6 Z" fill="#c48a66" fill-opacity="0.45"/><path d="M16.4,-6 C16.4,6 15.4,16 10.4,21 C11.8,14 13.0,4 13.0,-6 Z" fill="#c48a66" fill-opacity="0.45"/><path d="M-16.2,6 C-15.8,15 -12.4,22.4 -6,26.2 C-3,27.8 3,27.8 6,26.2 C12.4,22.4 15.8,15 16.2,6 C14.6,12 11.8,15.2 8.8,16.4 C6.4,18.4 4,19.6 0,19.6 C-4,19.6 -6.4,18.4 -8.8,16.4 C-11.8,15.2 -14.6,12 -16.2,6 Z" fill="#1e1612" fill-opacity="0.92"/><path d="M-16.6,-2 C-20,-12 -19.6,-22 -13.8,-27.6 C-8,-32.8 8,-32.8 13.8,-27.6 C19.6,-22 20,-12 16.6,-2 C16.6,-8 15.8,-14.6 12.8,-19 C8,-21 -8,-21 -12.8,-19 C-15.8,-14.6 -16.6,-8 -16.6,-2 Z" fill="url(#hr_kle)"/><ellipse cx="-8.6" cy="-4.0" rx="4.6" ry="2.6" fill="#c48a66" fill-opacity="0.38"/><ellipse cx="7.5" cy="-4.0" rx="4.6" ry="2.6" fill="#c48a66" fill-opacity="0.38"/><path d="M-13.4,-7.1 q4,-2.3 8.8,-0.5 M3.5,-7.8 q4.8,-1.8 8.8,0.5" fill="none" stroke="#15100d" stroke-width="2.1" stroke-linecap="round" stroke-opacity="1.00"/><path d="M-11.8,-4.3 q3.2,-1.5 6.4,0 M4.3,-4.3 q3.2,-1.5 6.4,0" fill="none" stroke="#1e1612" stroke-width="0.9" stroke-opacity="0.7"/><ellipse cx="-8.6" cy="-3.4" rx="2.6" ry="1.35" fill="#eee6e0"/><circle cx="-8.6" cy="-3.3" r="1.3" fill="#3c5268"/><ellipse cx="7.5" cy="-3.4" rx="2.6" ry="1.35" fill="#eee6e0"/><circle cx="7.5" cy="-3.3" r="1.3" fill="#3c5268"/><path d="M-3.6,7.8 C-2.4,9.3 2.6,9.3 3.8,7.8" fill="none" stroke="#aa7452" stroke-width="1.3" stroke-linecap="round" stroke-opacity="0.8"/><path d="M-2.2,-1.9 C-3.2,2.4 -4.2,5.8 -3.8,7.4" fill="none" stroke="#aa7452" stroke-width="0.9" stroke-linecap="round" stroke-opacity="0.45"/><ellipse cx="0.3" cy="3.8" rx="1.7" ry="4.2" fill="#fff" fill-opacity="0.35"/><ellipse cx="0" cy="-11.6" rx="10.4" ry="5" fill="#fff" fill-opacity="0.16"/><path d="M-9.4,12.5 C-5,9.5 -1.6,9.9 0,10.7 C1.6,9.9 5,9.5 8.8,12.5 C5,11.3 2,11.5 0,11.9 C-2,11.5 -5,11.3 -9.4,12.5 Z" fill="#15100d" stroke="#15100d" stroke-width="0.8"/><path d="M-5.4,13.5 C-2,12.7 2,12.7 5.2,13.5 C3,16.7 -3,16.7 -5.4,13.5 Z" fill="#dc9896"/></g></g></g>
<circle cx="1781.5" cy="868.4" r="27.5" fill="#007a62"/>
<g transform="translate(1781.5 868.4)" clip-path="url(#hc)"><g transform="translate(0.0 0.0) scale(1.000)"><g filter="url(#soft)"><path d="M-16,-20 C-21,-14 -23.2,-6 -22.6,2 C-22.2,9 -21,16 -18.6,23 L-17.4,17 L-15,-6 Z M16,-22 C21.6,-16 24.6,-7 24.2,2 C23.8,9 21.6,17 18.4,23 L17.4,16 L15,-6 Z" fill="#73543a"/><path d="M-11.9,13.4 L-12.7,34 L12.7,34 L11.9,13.4 Z" fill="#d2a186"/><ellipse cx="-18.8" cy="6.5" rx="3.1" ry="6.0" fill="#ecc7b2" transform="rotate(8 -18.8 6.5)"/><ellipse cx="-18.9" cy="6.5" rx="1.3" ry="4.0" fill="#cf9c82" fill-opacity="0.5"/><ellipse cx="18.8" cy="6.5" rx="3.1" ry="6.0" fill="#ecc7b2" transform="rotate(-8 18.8 6.5)"/><ellipse cx="18.9" cy="6.5" rx="1.3" ry="4.0" fill="#cf9c82" fill-opacity="0.5"/><path d="M-17.3,1 C-17.6,-22.5 -13.3,-27.5 0,-27.5 C13.3,-27.5 17.6,-22.5 17.3,1 C17.3,8 16.7,13 14.6,16 C11.6,22 8.5,27.4 0,27.4 C-8.5,27.4 -11.6,22 -14.6,16 C-16.7,13 -17.3,8 -17.3,1 Z" fill="url(#sk_wol)"/><path d="M-17.3,-6 C-17.3,6 -16.3,16 -10.6,21 C-12.7,14 -13.9,4 -13.9,-6 Z" fill="#cf9c82" fill-opacity="0.45"/><path d="M17.3,-6 C17.3,6 16.3,16 10.6,21 C12.7,14 13.9,4 13.9,-6 Z" fill="#cf9c82" fill-opacity="0.45"/><path d="M-7.6,20.4 C-4,18.6 4,18.6 7.6,20.4 C9.4,23.6 7,28.6 0,29 C-7,28.6 -9.4,23.6 -7.6,20.4 Z" fill="#8a5e40" fill-opacity="0.62"/><path d="M-13,16 C-11,22 -7,26.4 0,27.6 C7,26.4 11,22 13,16 C10.6,21.4 6,24.6 0,25 C-6,24.6 -10.6,21.4 -13,16 Z" fill="#a9795c" fill-opacity="0.35"/><path d="M-17.8,-1 C-19.6,-8 -19.6,-17 -15.6,-23.6 C-11.6,-29.6 -4,-32.8 3,-32.6 C9,-32.4 13.4,-30 16.4,-26 C20,-21 21.6,-12 20,-5 L17.8,0 C17.8,-6 16.4,-11 13.4,-15 C10,-19.4 4,-21.4 -2,-20.8 C-8,-20.2 -13,-17 -15.4,-11.6 C-16.8,-8 -17.6,-4.6 -17.8,-1 Z" fill="url(#hr_wol)"/><path d="M-11,-24.6 C-5,-29 4,-29.6 11,-25.4 M-14.6,-17.6 C-10,-23 -2,-25.4 6,-24.4 M9,-27 C13.6,-24 16.6,-19 18,-12" fill="none" stroke="#b8976a" stroke-width="1.5" stroke-linecap="round" stroke-opacity="0.75"/><path d="M-17,-12 C-15,-19 -9,-23.4 -2,-23.6 M12,-21.6 C15.6,-18 17.6,-13 18.6,-8" fill="none" stroke="#54402c" stroke-width="1.3" stroke-linecap="round" stroke-opacity="0.6"/><ellipse cx="-9.0" cy="-3.5" rx="4.6" ry="2.6" fill="#cf9c82" fill-opacity="0.38"/><ellipse cx="7.8" cy="-3.5" rx="4.6" ry="2.6" fill="#cf9c82" fill-opacity="0.38"/><path d="M-13.8,-6.3 q4,-2.3 8.8,-0.5 M3.8,-7.0 q4.8,-1.8 8.8,0.5" fill="none" stroke="#94724e" stroke-width="1.5" stroke-linecap="round" stroke-opacity="0.75"/><path d="M-12.2,-3.8 q3.2,-1.5 6.4,0 M4.6,-3.8 q3.2,-1.5 6.4,0" fill="none" stroke="#6a4c36" stroke-width="0.9" stroke-opacity="0.7"/><ellipse cx="-9.0" cy="-2.9" rx="2.6" ry="1.35" fill="#f6efeb"/><circle cx="-9.0" cy="-2.8" r="1.3" fill="#2f4272"/><ellipse cx="7.8" cy="-2.9" rx="2.6" ry="1.35" fill="#f6efeb"/><circle cx="7.8" cy="-2.8" r="1.3" fill="#2f4272"/><path d="M-3.6,5.8 C-2.4,7.3 2.6,7.3 3.8,5.8" fill="none" stroke="#b27c60" stroke-width="1.3" stroke-linecap="round" stroke-opacity="0.8"/><path d="M-2.2,-1.4 C-3.2,0.4 -4.2,3.8 -3.8,5.4" fill="none" stroke="#b27c60" stroke-width="0.9" stroke-linecap="round" stroke-opacity="0.45"/><ellipse cx="0.3" cy="1.8" rx="1.7" ry="4.2" fill="#fff" fill-opacity="0.35"/><ellipse cx="0" cy="-12.5" rx="11.3" ry="5" fill="#fff" fill-opacity="0.16"/><path d="M-9.4,11.9 C-6,8.6 -2,8.7 0,9.6 C2,8.7 6,8.6 9.2,11.9 C5.6,10.5 2.6,10.7 0,11.1 C-2.6,10.7 -5.6,10.5 -9.4,11.9 Z" fill="#8a5434" stroke="#8a5434" stroke-width="0.7"/><path d="M-5.6,12.2 C-2,11.5 2,11.5 5.6,12.2 C3,15.2 -3,15.2 -5.6,12.2 Z" fill="#d98a8c"/></g></g></g>
</g>
<g>
<rect x="40.3" y="941.55" width="1838.5" height="2.3" fill="#d5d5d5"/>
<rect x="55.95" y="925.60" width="2.5" height="33.20" fill="#d3d3d3"/>
<rect x="206.20" y="925.60" width="2.5" height="33.20" fill="#d3d3d3"/>
<rect x="356.45" y="925.60" width="2.5" height="33.20" fill="#d3d3d3"/>
<rect x="506.70" y="925.60" width="2.5" height="33.20" fill="#d3d3d3"/>
<rect x="656.95" y="925.60" width="2.5" height="33.20" fill="#d3d3d3"/>
<rect x="807.20" y="925.60" width="2.5" height="33.20" fill="#d3d3d3"/>
<rect x="957.45" y="925.60" width="2.5" height="33.20" fill="#d3d3d3"/>
<rect x="1107.70" y="925.60" width="2.5" height="33.20" fill="#d3d3d3"/>
<rect x="1257.95" y="925.60" width="2.5" height="33.20" fill="#d3d3d3"/>
<rect x="1408.20" y="925.60" width="2.5" height="33.20" fill="#d3d3d3"/>
<rect x="1558.45" y="925.60" width="2.5" height="33.20" fill="#d3d3d3"/>
<rect x="1708.70" y="925.60" width="2.5" height="33.20" fill="#d3d3d3"/>
<rect x="1858.95" y="925.60" width="2.5" height="33.20" fill="#d3d3d3"/>
<rect x="471.5" y="935.40" width="531.2" height="14.6" fill="#000" fill-opacity="0.125"/>
<rect x="471.5" y="941.20" width="531.2" height="3" fill="#b9b9b9"/>
<rect x="506.40" y="935.40" width="3.1" height="14.6" fill="#bbbbbb"/>
<rect x="656.65" y="935.40" width="3.1" height="14.6" fill="#bbbbbb"/>
<rect x="806.90" y="935.40" width="3.1" height="14.6" fill="#bbbbbb"/>
<rect x="957.15" y="935.40" width="3.1" height="14.6" fill="#bbbbbb"/>
<rect x="471.5" y="942.05" width="531.2" height="1.3" fill="#d6d6d6"/>
<rect x="507.30" y="935.40" width="1.3" height="14.6" fill="#d6d6d6"/>
<rect x="657.55" y="935.40" width="1.3" height="14.6" fill="#d6d6d6"/>
<rect x="807.80" y="935.40" width="1.3" height="14.6" fill="#d6d6d6"/>
<rect x="958.05" y="935.40" width="1.3" height="14.6" fill="#d6d6d6"/>
<circle cx="588.3" cy="942.7" r="11.9" fill="#00c800"/>
<circle cx="908.1" cy="942.7" r="11.9" fill="#f76bc4"/>
<circle cx="908.1" cy="942.7" r="11.9" fill="#a236a4"/>
<circle cx="471.5" cy="943.5" r="27.5" fill="#000000"/>
<g transform="translate(471.5 943.5)" clip-path="url(#hc)"><g transform="translate(2.0 0.0) scale(0.940)"><g filter="url(#soft)"><path d="M-11.4,13.4 L-12.2,34 L12.2,34 L11.4,13.4 Z" fill="#c08a62"/><ellipse cx="-18.3" cy="7.8" rx="3.1" ry="7.2" fill="#d9a27e" transform="rotate(8 -18.3 7.8)"/><ellipse cx="-18.4" cy="7.8" rx="1.3" ry="5.2" fill="#b98058" fill-opacity="0.5"/><ellipse cx="18.3" cy="7.8" rx="3.1" ry="7.2" fill="#d9a27e" transform="rotate(-8 18.3 7.8)"/><ellipse cx="18.4" cy="7.8" rx="1.3" ry="5.2" fill="#b98058" fill-opacity="0.5"/><path d="M-16.8,1 C-17.1,-18.5 -12.8,-23.5 0,-23.5 C12.8,-23.5 17.1,-18.5 16.8,1 C16.8,8 16.2,13 14.0,16 C11.0,22 8.5,27.4 0,27.4 C-8.5,27.4 -11.0,22 -14.0,16 C-16.2,13 -16.8,8 -16.8,1 Z" fill="url(#sk_wei)"/><path d="M-16.8,-6 C-16.8,6 -15.8,16 -10.0,21 C-12.2,14 -13.4,4 -13.4,-6 Z" fill="#b98058" fill-opacity="0.45"/><path d="M16.8,-6 C16.8,6 15.8,16 10.0,21 C12.2,14 13.4,4 13.4,-6 Z" fill="#b98058" fill-opacity="0.45"/><path d="M-17.2,0 C-22,-8 -22.6,-20 -16.6,-27 C-10,-33.2 8,-33.6 15.4,-27.8 C22.2,-21.4 22.6,-9 17.4,0 C17.8,-7 16.4,-12.4 12.4,-15.6 C8,-17.6 3,-16.2 0,-17.4 C-4,-19 -9,-17.6 -12.6,-15 C-15.8,-12.2 -17,-6.6 -17.2,0 Z" fill="url(#hr_wei)"/><path d="M-11,-20.4 C-6,-24.4 2,-24.8 8,-22 M-13,-25 C-6,-29.6 6,-29.8 13,-24.6" fill="none" stroke="#bd8a4e" stroke-width="1.5" stroke-linecap="round" stroke-opacity="0.75"/><path d="M-19,-12 C-19,-18 -16,-24 -11,-28 M16,-25 C19.6,-20 20.4,-13 19,-7" fill="none" stroke="#5e3e22" stroke-width="1.3" stroke-linecap="round" stroke-opacity="0.6"/><ellipse cx="-8.4" cy="-4.2" rx="4.6" ry="2.6" fill="#b98058" fill-opacity="0.38"/><ellipse cx="7.4" cy="-4.2" rx="4.6" ry="2.6" fill="#b98058" fill-opacity="0.38"/><path d="M-13.2,-6.7 q4,-2.3 8.8,-0.5 M3.4,-7.4 q4.8,-1.8 8.8,0.5" fill="none" stroke="#8a623e" stroke-width="1.5" stroke-linecap="round" stroke-opacity="0.90"/><path d="M-11.6,-4.5 q3.2,-1.5 6.4,0 M4.2,-4.5 q3.2,-1.5 6.4,0" fill="none" stroke="#5e4028" stroke-width="0.9" stroke-opacity="0.7"/><ellipse cx="-8.4" cy="-3.6" rx="2.6" ry="1.35" fill="#efe6de"/><circle cx="-8.4" cy="-3.5" r="1.3" fill="#5a8098"/><ellipse cx="7.4" cy="-3.6" rx="2.6" ry="1.35" fill="#efe6de"/><circle cx="7.4" cy="-3.5" r="1.3" fill="#5a8098"/><path d="M-3.6,6.8 C-2.4,8.3 2.6,8.3 3.8,6.8" fill="none" stroke="#a36c48" stroke-width="1.3" stroke-linecap="round" stroke-opacity="0.8"/><path d="M-2.2,-2.1 C-3.2,1.4 -4.2,4.8 -3.8,6.4" fill="none" stroke="#a36c48" stroke-width="0.9" stroke-linecap="round" stroke-opacity="0.45"/><ellipse cx="0.3" cy="2.8" rx="1.7" ry="4.2" fill="#fff" fill-opacity="0.35"/><ellipse cx="0" cy="-8.5" rx="10.8" ry="5" fill="#fff" fill-opacity="0.16"/><path d="M-6.4,14.2 C-3,12 -1.2,12.5 0,13.1 C1.2,12.5 3,12 5.8,14.2 C3,17.2 -3.4,17.2 -6.4,14.2 Z" fill="#c7807a"/><path d="M-6.4,14.2 C-2,14.9 2,14.9 5.8,14.2" fill="none" stroke="#94544a" stroke-width="0.8"/></g></g></g>
<circle cx="1002.7" cy="943.5" r="27.5" fill="#007a62"/>
<g transform="translate(1002.7 943.5)" clip-path="url(#hc)"><g transform="translate(0.0 0.0) scale(1.000)"><g filter="url(#soft)"><path d="M-16,-20 C-21,-14 -23.2,-6 -22.6,2 C-22.2,9 -21,16 -18.6,23 L-17.4,17 L-15,-6 Z M16,-22 C21.6,-16 24.6,-7 24.2,2 C23.8,9 21.6,17 18.4,23 L17.4,16 L15,-6 Z" fill="#73543a"/><path d="M-11.9,13.4 L-12.7,34 L12.7,34 L11.9,13.4 Z" fill="#d2a186"/><ellipse cx="-18.8" cy="6.5" rx="3.1" ry="6.0" fill="#ecc7b2" transform="rotate(8 -18.8 6.5)"/><ellipse cx="-18.9" cy="6.5" rx="1.3" ry="4.0" fill="#cf9c82" fill-opacity="0.5"/><ellipse cx="18.8" cy="6.5" rx="3.1" ry="6.0" fill="#ecc7b2" transform="rotate(-8 18.8 6.5)"/><ellipse cx="18.9" cy="6.5" rx="1.3" ry="4.0" fill="#cf9c82" fill-opacity="0.5"/><path d="M-17.3,1 C-17.6,-22.5 -13.3,-27.5 0,-27.5 C13.3,-27.5 17.6,-22.5 17.3,1 C17.3,8 16.7,13 14.6,16 C11.6,22 8.5,27.4 0,27.4 C-8.5,27.4 -11.6,22 -14.6,16 C-16.7,13 -17.3,8 -17.3,1 Z" fill="url(#sk_wol)"/><path d="M-17.3,-6 C-17.3,6 -16.3,16 -10.6,21 C-12.7,14 -13.9,4 -13.9,-6 Z" fill="#cf9c82" fill-opacity="0.45"/><path d="M17.3,-6 C17.3,6 16.3,16 10.6,21 C12.7,14 13.9,4 13.9,-6 Z" fill="#cf9c82" fill-opacity="0.45"/><path d="M-7.6,20.4 C-4,18.6 4,18.6 7.6,20.4 C9.4,23.6 7,28.6 0,29 C-7,28.6 -9.4,23.6 -7.6,20.4 Z" fill="#8a5e40" fill-opacity="0.62"/><path d="M-13,16 C-11,22 -7,26.4 0,27.6 C7,26.4 11,22 13,16 C10.6,21.4 6,24.6 0,25 C-6,24.6 -10.6,21.4 -13,16 Z" fill="#a9795c" fill-opacity="0.35"/><path d="M-17.8,-1 C-19.6,-8 -19.6,-17 -15.6,-23.6 C-11.6,-29.6 -4,-32.8 3,-32.6 C9,-32.4 13.4,-30 16.4,-26 C20,-21 21.6,-12 20,-5 L17.8,0 C17.8,-6 16.4,-11 13.4,-15 C10,-19.4 4,-21.4 -2,-20.8 C-8,-20.2 -13,-17 -15.4,-11.6 C-16.8,-8 -17.6,-4.6 -17.8,-1 Z" fill="url(#hr_wol)"/><path d="M-11,-24.6 C-5,-29 4,-29.6 11,-25.4 M-14.6,-17.6 C-10,-23 -2,-25.4 6,-24.4 M9,-27 C13.6,-24 16.6,-19 18,-12" fill="none" stroke="#b8976a" stroke-width="1.5" stroke-linecap="round" stroke-opacity="0.75"/><path d="M-17,-12 C-15,-19 -9,-23.4 -2,-23.6 M12,-21.6 C15.6,-18 17.6,-13 18.6,-8" fill="none" stroke="#54402c" stroke-width="1.3" stroke-linecap="round" stroke-opacity="0.6"/><ellipse cx="-9.0" cy="-3.5" rx="4.6" ry="2.6" fill="#cf9c82" fill-opacity="0.38"/><ellipse cx="7.8" cy="-3.5" rx="4.6" ry="2.6" fill="#cf9c82" fill-opacity="0.38"/><path d="M-13.8,-6.3 q4,-2.3 8.8,-0.5 M3.8,-7.0 q4.8,-1.8 8.8,0.5" fill="none" stroke="#94724e" stroke-width="1.5" stroke-linecap="round" stroke-opacity="0.75"/><path d="M-12.2,-3.8 q3.2,-1.5 6.4,0 M4.6,-3.8 q3.2,-1.5 6.4,0" fill="none" stroke="#6a4c36" stroke-width="0.9" stroke-opacity="0.7"/><ellipse cx="-9.0" cy="-2.9" rx="2.6" ry="1.35" fill="#f6efeb"/><circle cx="-9.0" cy="-2.8" r="1.3" fill="#2f4272"/><ellipse cx="7.8" cy="-2.9" rx="2.6" ry="1.35" fill="#f6efeb"/><circle cx="7.8" cy="-2.8" r="1.3" fill="#2f4272"/><path d="M-3.6,5.8 C-2.4,7.3 2.6,7.3 3.8,5.8" fill="none" stroke="#b27c60" stroke-width="1.3" stroke-linecap="round" stroke-opacity="0.8"/><path d="M-2.2,-1.4 C-3.2,0.4 -4.2,3.8 -3.8,5.4" fill="none" stroke="#b27c60" stroke-width="0.9" stroke-linecap="round" stroke-opacity="0.45"/><ellipse cx="0.3" cy="1.8" rx="1.7" ry="4.2" fill="#fff" fill-opacity="0.35"/><ellipse cx="0" cy="-12.5" rx="11.3" ry="5" fill="#fff" fill-opacity="0.16"/><path d="M-9.4,11.9 C-6,8.6 -2,8.7 0,9.6 C2,8.7 6,8.6 9.2,11.9 C5.6,10.5 2.6,10.7 0,11.1 C-2.6,10.7 -5.6,10.5 -9.4,11.9 Z" fill="#8a5434" stroke="#8a5434" stroke-width="0.7"/><path d="M-5.6,12.2 C-2,11.5 2,11.5 5.6,12.2 C3,15.2 -3,15.2 -5.6,12.2 Z" fill="#d98a8c"/></g></g></g>
</g>
<clipPath id="lc_wol"><rect x="-40" y="-45" width="80" height="75.8"/></clipPath>
<g transform="translate(71.0 215.9)" clip-path="url(#lc_wol)"><g filter="url(#soft)"><path d="M-16,-20 C-21,-14 -23.2,-6 -22.6,2 C-22.2,9 -21,16 -18.6,23 L-17.4,17 L-15,-6 Z M16,-22 C21.6,-16 24.6,-7 24.2,2 C23.8,9 21.6,17 18.4,23 L17.4,16 L15,-6 Z" fill="#73543a"/><path d="M-11.9,13.4 L-12.7,34 L12.7,34 L11.9,13.4 Z" fill="#d2a186"/><ellipse cx="-18.8" cy="6.5" rx="3.1" ry="6.0" fill="#ecc7b2" transform="rotate(8 -18.8 6.5)"/><ellipse cx="-18.9" cy="6.5" rx="1.3" ry="4.0" fill="#cf9c82" fill-opacity="0.5"/><ellipse cx="18.8" cy="6.5" rx="3.1" ry="6.0" fill="#ecc7b2" transform="rotate(-8 18.8 6.5)"/><ellipse cx="18.9" cy="6.5" rx="1.3" ry="4.0" fill="#cf9c82" fill-opacity="0.5"/><path d="M-17.3,1 C-17.6,-22.5 -13.3,-27.5 0,-27.5 C13.3,-27.5 17.6,-22.5 17.3,1 C17.3,8 16.7,13 14.6,16 C11.6,22 8.5,27.4 0,27.4 C-8.5,27.4 -11.6,22 -14.6,16 C-16.7,13 -17.3,8 -17.3,1 Z" fill="url(#sk_wol)"/><path d="M-17.3,-6 C-17.3,6 -16.3,16 -10.6,21 C-12.7,14 -13.9,4 -13.9,-6 Z" fill="#cf9c82" fill-opacity="0.45"/><path d="M17.3,-6 C17.3,6 16.3,16 10.6,21 C12.7,14 13.9,4 13.9,-6 Z" fill="#cf9c82" fill-opacity="0.45"/><path d="M-7.6,20.4 C-4,18.6 4,18.6 7.6,20.4 C9.4,23.6 7,28.6 0,29 C-7,28.6 -9.4,23.6 -7.6,20.4 Z" fill="#8a5e40" fill-opacity="0.62"/><path d="M-13,16 C-11,22 -7,26.4 0,27.6 C7,26.4 11,22 13,16 C10.6,21.4 6,24.6 0,25 C-6,24.6 -10.6,21.4 -13,16 Z" fill="#a9795c" fill-opacity="0.35"/><path d="M-17.8,-1 C-19.6,-8 -19.6,-17 -15.6,-23.6 C-11.6,-29.6 -4,-32.8 3,-32.6 C9,-32.4 13.4,-30 16.4,-26 C20,-21 21.6,-12 20,-5 L17.8,0 C17.8,-6 16.4,-11 13.4,-15 C10,-19.4 4,-21.4 -2,-20.8 C-8,-20.2 -13,-17 -15.4,-11.6 C-16.8,-8 -17.6,-4.6 -17.8,-1 Z" fill="url(#hr_wol)"/><path d="M-11,-24.6 C-5,-29 4,-29.6 11,-25.4 M-14.6,-17.6 C-10,-23 -2,-25.4 6,-24.4 M9,-27 C13.6,-24 16.6,-19 18,-12" fill="none" stroke="#b8976a" stroke-width="1.5" stroke-linecap="round" stroke-opacity="0.75"/><path d="M-17,-12 C-15,-19 -9,-23.4 -2,-23.6 M12,-21.6 C15.6,-18 17.6,-13 18.6,-8" fill="none" stroke="#54402c" stroke-width="1.3" stroke-linecap="round" stroke-opacity="0.6"/><ellipse cx="-9.0" cy="-3.5" rx="4.6" ry="2.6" fill="#cf9c82" fill-opacity="0.38"/><ellipse cx="7.8" cy="-3.5" rx="4.6" ry="2.6" fill="#cf9c82" fill-opacity="0.38"/><path d="M-13.8,-6.3 q4,-2.3 8.8,-0.5 M3.8,-7.0 q4.8,-1.8 8.8,0.5" fill="none" stroke="#94724e" stroke-width="1.5" stroke-linecap="round" stroke-opacity="0.75"/><path d="M-12.2,-3.8 q3.2,-1.5 6.4,0 M4.6,-3.8 q3.2,-1.5 6.4,0" fill="none" stroke="#6a4c36" stroke-width="0.9" stroke-opacity="0.7"/><ellipse cx="-9.0" cy="-2.9" rx="2.6" ry="1.35" fill="#f6efeb"/><circle cx="-9.0" cy="-2.8" r="1.3" fill="#2f4272"/><ellipse cx="7.8" cy="-2.9" rx="2.6" ry="1.35" fill="#f6efeb"/><circle cx="7.8" cy="-2.8" r="1.3" fill="#2f4272"/><path d="M-3.6,5.8 C-2.4,7.3 2.6,7.3 3.8,5.8" fill="none" stroke="#b27c60" stroke-width="1.3" stroke-linecap="round" stroke-opacity="0.8"/><path d="M-2.2,-1.4 C-3.2,0.4 -4.2,3.8 -3.8,5.4" fill="none" stroke="#b27c60" stroke-width="0.9" stroke-linecap="round" stroke-opacity="0.45"/><ellipse cx="0.3" cy="1.8" rx="1.7" ry="4.2" fill="#fff" fill-opacity="0.35"/><ellipse cx="0" cy="-12.5" rx="11.3" ry="5" fill="#fff" fill-opacity="0.16"/><path d="M-9.4,11.9 C-6,8.6 -2,8.7 0,9.6 C2,8.7 6,8.6 9.2,11.9 C5.6,10.5 2.6,10.7 0,11.1 C-2.6,10.7 -5.6,10.5 -9.4,11.9 Z" fill="#8a5434" stroke="#8a5434" stroke-width="0.7"/><path d="M-5.6,12.2 C-2,11.5 2,11.5 5.6,12.2 C3,15.2 -3,15.2 -5.6,12.2 Z" fill="#d98a8c"/></g></g>
<clipPath id="lc_har"><rect x="-40" y="-45" width="80" height="74.7"/></clipPath>
<g transform="translate(389.8 217.0)" clip-path="url(#lc_har)"><g filter="url(#soft)"><path d="M-12.6,11.4 L-13.4,34 L13.4,34 L12.6,11.4 Z" fill="#ecccc1"/><path d="M-19.0,30.6 L-13.0,28.4 L-13.0,34 L-19.0,34 Z M19.0,30.6 L13.0,28.4 L13.0,34 L19.0,34 Z" fill="#3a4688"/><ellipse cx="-18.5" cy="0.8" rx="3.1" ry="7.2" fill="#ee8e70" transform="rotate(8 -18.5 0.8)"/><ellipse cx="-18.6" cy="0.8" rx="1.3" ry="5.2" fill="#dcb0a2" fill-opacity="0.5"/><ellipse cx="18.5" cy="0.8" rx="3.1" ry="7.2" fill="#ee8e70" transform="rotate(-8 18.5 0.8)"/><ellipse cx="18.6" cy="0.8" rx="1.3" ry="5.2" fill="#dcb0a2" fill-opacity="0.5"/><path d="M-17.0,1 C-17.3,-18.5 -13.0,-23.5 0,-23.5 C13.0,-23.5 17.3,-18.5 17.0,1 C17.0,8 16.4,13 14.2,16 C11.2,22 8.5,25.4 0,25.4 C-8.5,25.4 -11.2,22 -14.2,16 C-16.4,13 -17.0,8 -17.0,1 Z" fill="url(#sk_har)"/><path d="M-17.0,-6 C-17.0,6 -16.0,16 -10.2,21 C-12.4,14 -13.6,4 -13.6,-6 Z" fill="#dcb0a2" fill-opacity="0.45"/><path d="M17.0,-6 C17.0,6 16.0,16 10.2,21 C12.4,14 13.6,4 13.6,-6 Z" fill="#dcb0a2" fill-opacity="0.45"/><path d="M-17.4,-2 C-20.2,-10 -19.8,-20 -14.8,-26 C-9,-32 9,-32.4 14.8,-26.6 C19.8,-21 20.6,-10 17.6,-2 C17.6,-8 16,-13.4 12,-15.8 C6,-17.8 -5,-18 -11.4,-15.8 C-15.6,-13.4 -17.2,-8 -17.4,-2 Z" fill="url(#hr_har)"/><path d="M-12,-22 C-6,-27.5 6,-28 12,-23 M-14,-17.4 C-8,-21.6 6,-22.4 13.6,-17.8 M-4,-29.4 C2,-30.4 8,-28.6 12,-25.4" fill="none" stroke="#e8dcc0" stroke-width="1.5" stroke-linecap="round" stroke-opacity="0.75"/><path d="M-16,-14 C-13,-18.6 -7,-20 -2,-19.6 M3,-25 C8,-24.6 12,-22 14.6,-18 M-8,-26 l3,-1.4 M1,-27.6 l3,0.4 M-13,-21 l2.6,-1.8 M9,-20.6 l2.4,1.6 M-3,-22.6 l2.6,-0.6" fill="none" stroke="#7d6848" stroke-width="1.3" stroke-linecap="round" stroke-opacity="0.6"/><ellipse cx="-7.8" cy="-3.2" rx="4.6" ry="2.6" fill="#dcb0a2" fill-opacity="0.38"/><ellipse cx="7.4" cy="-3.2" rx="4.6" ry="2.6" fill="#dcb0a2" fill-opacity="0.38"/><path d="M-12.6,-5.7 q4,-2.3 8.8,-0.5 M3.4,-6.4 q4.8,-1.8 8.8,0.5" fill="none" stroke="#b09a80" stroke-width="1.5" stroke-linecap="round" stroke-opacity="0.70"/><path d="M-11.0,-3.5 q3.2,-1.5 6.4,0 M4.2,-3.5 q3.2,-1.5 6.4,0" fill="none" stroke="#8a7464" stroke-width="0.9" stroke-opacity="0.7"/><ellipse cx="-7.8" cy="-2.6" rx="2.6" ry="1.35" fill="#f2ecea"/><circle cx="-7.8" cy="-2.5" r="1.3" fill="#5d7c9c"/><ellipse cx="7.4" cy="-2.6" rx="2.6" ry="1.35" fill="#f2ecea"/><circle cx="7.4" cy="-2.5" r="1.3" fill="#5d7c9c"/><path d="M-3.6,7.4 C-2.4,8.9 2.6,8.9 3.8,7.4" fill="none" stroke="#c49384" stroke-width="1.3" stroke-linecap="round" stroke-opacity="0.8"/><path d="M-2.2,-1.1 C-3.2,2.0 -4.2,5.4 -3.8,7.0" fill="none" stroke="#c49384" stroke-width="0.9" stroke-linecap="round" stroke-opacity="0.45"/><ellipse cx="0.3" cy="3.4" rx="1.7" ry="4.2" fill="#fff" fill-opacity="0.35"/><ellipse cx="0" cy="-8.5" rx="11.0" ry="5" fill="#fff" fill-opacity="0.16"/><path d="M-6.2,13 C-3,11.4 3,11.4 6.2,13 C3.6,16.8 -3.6,16.8 -6.2,13 Z" fill="#c57e80"/><path d="M-4.6,13.2 C-2,12.5 2,12.5 4.6,13.2 C2,14.9 -2,14.9 -4.6,13.2 Z" fill="#f6f1f1"/></g></g>
<clipPath id="lc_wei"><rect x="-40" y="-45" width="80" height="75.9"/></clipPath>
<g transform="translate(639.4 215.8)" clip-path="url(#lc_wei)"><g filter="url(#soft)"><path d="M-11.4,13.4 L-12.2,34 L12.2,34 L11.4,13.4 Z" fill="#c08a62"/><ellipse cx="-18.3" cy="7.8" rx="3.1" ry="7.2" fill="#d9a27e" transform="rotate(8 -18.3 7.8)"/><ellipse cx="-18.4" cy="7.8" rx="1.3" ry="5.2" fill="#b98058" fill-opacity="0.5"/><ellipse cx="18.3" cy="7.8" rx="3.1" ry="7.2" fill="#d9a27e" transform="rotate(-8 18.3 7.8)"/><ellipse cx="18.4" cy="7.8" rx="1.3" ry="5.2" fill="#b98058" fill-opacity="0.5"/><path d="M-16.8,1 C-17.1,-18.5 -12.8,-23.5 0,-23.5 C12.8,-23.5 17.1,-18.5 16.8,1 C16.8,8 16.2,13 14.0,16 C11.0,22 8.5,27.4 0,27.4 C-8.5,27.4 -11.0,22 -14.0,16 C-16.2,13 -16.8,8 -16.8,1 Z" fill="url(#sk_wei)"/><path d="M-16.8,-6 C-16.8,6 -15.8,16 -10.0,21 C-12.2,14 -13.4,4 -13.4,-6 Z" fill="#b98058" fill-opacity="0.45"/><path d="M16.8,-6 C16.8,6 15.8,16 10.0,21 C12.2,14 13.4,4 13.4,-6 Z" fill="#b98058" fill-opacity="0.45"/><path d="M-17.2,0 C-22,-8 -22.6,-20 -16.6,-27 C-10,-33.2 8,-33.6 15.4,-27.8 C22.2,-21.4 22.6,-9 17.4,0 C17.8,-7 16.4,-12.4 12.4,-15.6 C8,-17.6 3,-16.2 0,-17.4 C-4,-19 -9,-17.6 -12.6,-15 C-15.8,-12.2 -17,-6.6 -17.2,0 Z" fill="url(#hr_wei)"/><path d="M-11,-20.4 C-6,-24.4 2,-24.8 8,-22 M-13,-25 C-6,-29.6 6,-29.8 13,-24.6" fill="none" stroke="#bd8a4e" stroke-width="1.5" stroke-linecap="round" stroke-opacity="0.75"/><path d="M-19,-12 C-19,-18 -16,-24 -11,-28 M16,-25 C19.6,-20 20.4,-13 19,-7" fill="none" stroke="#5e3e22" stroke-width="1.3" stroke-linecap="round" stroke-opacity="0.6"/><ellipse cx="-8.4" cy="-4.2" rx="4.6" ry="2.6" fill="#b98058" fill-opacity="0.38"/><ellipse cx="7.4" cy="-4.2" rx="4.6" ry="2.6" fill="#b98058" fill-opacity="0.38"/><path d="M-13.2,-6.7 q4,-2.3 8.8,-0.5 M3.4,-7.4 q4.8,-1.8 8.8,0.5" fill="none" stroke="#8a623e" stroke-width="1.5" stroke-linecap="round" stroke-opacity="0.90"/><path d="M-11.6,-4.5 q3.2,-1.5 6.4,0 M4.2,-4.5 q3.2,-1.5 6.4,0" fill="none" stroke="#5e4028" stroke-width="0.9" stroke-opacity="0.7"/><ellipse cx="-8.4" cy="-3.6" rx="2.6" ry="1.35" fill="#efe6de"/><circle cx="-8.4" cy="-3.5" r="1.3" fill="#5a8098"/><ellipse cx="7.4" cy="-3.6" rx="2.6" ry="1.35" fill="#efe6de"/><circle cx="7.4" cy="-3.5" r="1.3" fill="#5a8098"/><path d="M-3.6,6.8 C-2.4,8.3 2.6,8.3 3.8,6.8" fill="none" stroke="#a36c48" stroke-width="1.3" stroke-linecap="round" stroke-opacity="0.8"/><path d="M-2.2,-2.1 C-3.2,1.4 -4.2,4.8 -3.8,6.4" fill="none" stroke="#a36c48" stroke-width="0.9" stroke-linecap="round" stroke-opacity="0.45"/><ellipse cx="0.3" cy="2.8" rx="1.7" ry="4.2" fill="#fff" fill-opacity="0.35"/><ellipse cx="0" cy="-8.5" rx="10.8" ry="5" fill="#fff" fill-opacity="0.16"/><path d="M-6.4,14.2 C-3,12 -1.2,12.5 0,13.1 C1.2,12.5 3,12 5.8,14.2 C3,17.2 -3.4,17.2 -6.4,14.2 Z" fill="#c7807a"/><path d="M-6.4,14.2 C-2,14.9 2,14.9 5.8,14.2" fill="none" stroke="#94544a" stroke-width="0.8"/></g></g>
<clipPath id="lc_hav"><rect x="-40" y="-45" width="80" height="75.3"/></clipPath>
<g transform="translate(934.0 216.4)" clip-path="url(#lc_hav)"><g filter="url(#soft)"><path d="M-11.4,13.8 L-12.2,34 L12.2,34 L11.4,13.8 Z" fill="#c99678"/><ellipse cx="-18.3" cy="3.8" rx="3.1" ry="6.8" fill="#c88c72" transform="rotate(8 -18.3 3.8)"/><ellipse cx="-18.4" cy="3.8" rx="1.3" ry="4.8" fill="#c48e70" fill-opacity="0.5"/><ellipse cx="18.3" cy="3.8" rx="3.1" ry="6.8" fill="#c88c72" transform="rotate(-8 18.3 3.8)"/><ellipse cx="18.4" cy="3.8" rx="1.3" ry="4.8" fill="#c48e70" fill-opacity="0.5"/><path d="M-16.8,1 C-17.1,-18.5 -12.8,-23.5 0,-23.5 C12.8,-23.5 17.1,-18.5 16.8,1 C16.8,8 16.2,13 14.6,16 C11.6,22 8.5,27.8 0,27.8 C-8.5,27.8 -11.6,22 -14.6,16 C-16.2,13 -16.8,8 -16.8,1 Z" fill="url(#sk_hav)"/><path d="M-16.8,-6 C-16.8,6 -15.8,16 -10.6,21 C-12.2,14 -13.4,4 -13.4,-6 Z" fill="#c48e70" fill-opacity="0.45"/><path d="M16.8,-6 C16.8,6 15.8,16 10.6,21 C12.2,14 13.4,4 13.4,-6 Z" fill="#c48e70" fill-opacity="0.45"/><path d="M-16.4,6 C-15.8,15 -12,22.6 -6,26.8 C-3,28.6 3,28.6 6,26.8 C12,22.6 16,15 16.6,6 C14.6,14 11,19 7.4,20.4 C4,16.4 -4,16.4 -7.4,20.4 C-11,19 -14.6,14 -16.4,6 Z" fill="#3a2a22" fill-opacity="0.66"/><path d="M-9,12.2 C-4,9.6 4.6,9.6 10.4,12.2 C5,11.2 -4,11.2 -9,12.2 Z" fill="#3a2a22" fill-opacity="0.6" stroke="#3a2a22" stroke-opacity="0.5" stroke-width="1"/><path d="M-16.8,-1.5 C-21.4,-10 -21.6,-21 -15.8,-27.6 C-9,-34.2 9,-34.2 15.8,-27.6 C21,-21 21.2,-10 17.6,-1.5 C17.4,-8 16.8,-13 14.2,-17.4 C9,-19.8 2,-18.8 -4,-16.2 C-8,-14.4 -11.6,-12.8 -13.8,-9 C-15.8,-6 -16.6,-4 -16.8,-1.5 Z" fill="url(#hr_hav)"/><path d="M-9,-27 C-3,-30.4 6,-29.8 11.6,-25.8 M-14,-20 C-9,-24.6 -2,-26 5,-24.6" fill="none" stroke="#55463c" stroke-width="1.2" stroke-linecap="round" stroke-opacity="0.75"/><ellipse cx="-7.8" cy="-2.6" rx="4.6" ry="2.6" fill="#c48e70" fill-opacity="0.38"/><ellipse cx="8.0" cy="-2.6" rx="4.6" ry="2.6" fill="#c48e70" fill-opacity="0.38"/><path d="M-12.6,-5.5 q4,-2.3 8.8,-0.5 M4.0,-6.2 q4.8,-1.8 8.8,0.5" fill="none" stroke="#1d1612" stroke-width="2.4" stroke-linecap="round" stroke-opacity="1.00"/><path d="M-11.0,-2.9 q3.2,-1.5 6.4,0 M4.8,-2.9 q3.2,-1.5 6.4,0" fill="none" stroke="#2a201a" stroke-width="0.9" stroke-opacity="0.7"/><ellipse cx="-7.8" cy="-2.0" rx="2.6" ry="1.35" fill="#f1e9e4"/><circle cx="-7.8" cy="-1.9" r="1.3" fill="#465c6a"/><ellipse cx="8.0" cy="-2.0" rx="2.6" ry="1.35" fill="#f1e9e4"/><circle cx="8.0" cy="-1.9" r="1.3" fill="#465c6a"/><path d="M-3.6,7.6 C-2.4,9.1 2.6,9.1 3.8,7.6" fill="none" stroke="#b27e60" stroke-width="1.3" stroke-linecap="round" stroke-opacity="0.8"/><path d="M-2.2,-0.5 C-3.2,2.2 -4.2,5.6 -3.8,7.2" fill="none" stroke="#b27e60" stroke-width="0.9" stroke-linecap="round" stroke-opacity="0.45"/><ellipse cx="0.3" cy="3.6" rx="1.7" ry="4.2" fill="#fff" fill-opacity="0.35"/><ellipse cx="0" cy="-8.5" rx="10.8" ry="5" fill="#fff" fill-opacity="0.16"/><path d="M-7.8,12.6 C-3,12 5,12 9.8,12.4 C8.2,17.8 4,19.2 1,19.2 C-2.4,19.2 -6.2,17.8 -7.8,12.6 Z" fill="#c16a6e"/><path d="M-6.4,13.1 C-2,12.7 4.4,12.7 8.4,13 C6.8,16.6 3.6,17.4 1,17.4 C-1.8,17.4 -5,16.6 -6.4,13.1 Z" fill="#fdfcfa"/></g></g>
<clipPath id="lc_kle"><rect x="-40" y="-45" width="80" height="73.6"/></clipPath>
<g transform="translate(1207.0 216.3)" clip-path="url(#lc_kle)"><g filter="url(#soft)"><path d="M-11.0,12.6 L-11.8,34 L11.8,34 L11.0,12.6 Z" fill="#d29e7c"/><ellipse cx="-17.9" cy="2.6" rx="3.1" ry="6.3" fill="#dba584" transform="rotate(8 -17.9 2.6)"/><ellipse cx="-18.0" cy="2.6" rx="1.3" ry="4.3" fill="#c48a66" fill-opacity="0.5"/><ellipse cx="17.9" cy="2.6" rx="3.1" ry="6.3" fill="#dba584" transform="rotate(-8 17.9 2.6)"/><ellipse cx="18.0" cy="2.6" rx="1.3" ry="4.3" fill="#c48a66" fill-opacity="0.5"/><path d="M-16.4,1 C-16.7,-21.6 -12.4,-26.6 0,-26.6 C12.4,-26.6 16.7,-21.6 16.4,1 C16.4,8 15.8,13 14.4,16 C11.4,22 8.5,26.6 0,26.6 C-8.5,26.6 -11.4,22 -14.4,16 C-15.8,13 -16.4,8 -16.4,1 Z" fill="url(#sk_kle)"/><path d="M-16.4,-6 C-16.4,6 -15.4,16 -10.4,21 C-11.8,14 -13.0,4 -13.0,-6 Z" fill="#c48a66" fill-opacity="0.45"/><path d="M16.4,-6 C16.4,6 15.4,16 10.4,21 C11.8,14 13.0,4 13.0,-6 Z" fill="#c48a66" fill-opacity="0.45"/><path d="M-16.2,6 C-15.8,15 -12.4,22.4 -6,26.2 C-3,27.8 3,27.8 6,26.2 C12.4,22.4 15.8,15 16.2,6 C14.6,12 11.8,15.2 8.8,16.4 C6.4,18.4 4,19.6 0,19.6 C-4,19.6 -6.4,18.4 -8.8,16.4 C-11.8,15.2 -14.6,12 -16.2,6 Z" fill="#1e1612" fill-opacity="0.92"/><path d="M-16.6,-2 C-20,-12 -19.6,-22 -13.8,-27.6 C-8,-32.8 8,-32.8 13.8,-27.6 C19.6,-22 20,-12 16.6,-2 C16.6,-8 15.8,-14.6 12.8,-19 C8,-21 -8,-21 -12.8,-19 C-15.8,-14.6 -16.6,-8 -16.6,-2 Z" fill="url(#hr_kle)"/><ellipse cx="-8.6" cy="-4.0" rx="4.6" ry="2.6" fill="#c48a66" fill-opacity="0.38"/><ellipse cx="7.5" cy="-4.0" rx="4.6" ry="2.6" fill="#c48a66" fill-opacity="0.38"/><path d="M-13.4,-7.1 q4,-2.3 8.8,-0.5 M3.5,-7.8 q4.8,-1.8 8.8,0.5" fill="none" stroke="#15100d" stroke-width="2.1" stroke-linecap="round" stroke-opacity="1.00"/><path d="M-11.8,-4.3 q3.2,-1.5 6.4,0 M4.3,-4.3 q3.2,-1.5 6.4,0" fill="none" stroke="#1e1612" stroke-width="0.9" stroke-opacity="0.7"/><ellipse cx="-8.6" cy="-3.4" rx="2.6" ry="1.35" fill="#eee6e0"/><circle cx="-8.6" cy="-3.3" r="1.3" fill="#3c5268"/><ellipse cx="7.5" cy="-3.4" rx="2.6" ry="1.35" fill="#eee6e0"/><circle cx="7.5" cy="-3.3" r="1.3" fill="#3c5268"/><path d="M-3.6,7.8 C-2.4,9.3 2.6,9.3 3.8,7.8" fill="none" stroke="#aa7452" stroke-width="1.3" stroke-linecap="round" stroke-opacity="0.8"/><path d="M-2.2,-1.9 C-3.2,2.4 -4.2,5.8 -3.8,7.4" fill="none" stroke="#aa7452" stroke-width="0.9" stroke-linecap="round" stroke-opacity="0.45"/><ellipse cx="0.3" cy="3.8" rx="1.7" ry="4.2" fill="#fff" fill-opacity="0.35"/><ellipse cx="0" cy="-11.6" rx="10.4" ry="5" fill="#fff" fill-opacity="0.16"/><path d="M-9.4,12.5 C-5,9.5 -1.6,9.9 0,10.7 C1.6,9.9 5,9.5 8.8,12.5 C5,11.3 2,11.5 0,11.9 C-2,11.5 -5,11.3 -9.4,12.5 Z" fill="#15100d" stroke="#15100d" stroke-width="0.8"/><path d="M-5.4,13.5 C-2,12.7 2,12.7 5.2,13.5 C3,16.7 -3,16.7 -5.4,13.5 Z" fill="#dc9896"/></g></g>
<g fill="none" stroke="#000" stroke-width="3.6" stroke-linecap="round" stroke-linejoin="round">
<path d="M1710.8,827.5 C1712,818 1724,815 1735,818.5 C1745,821.5 1752,826.5 1757.5,832.5"/>
<path d="M1754.3,818.5 L1757.8,833 L1744.5,836.3"/>
</g>
<g fill="none" stroke="#000" stroke-width="2.6" stroke-linecap="round" stroke-linejoin="round">
<path d="M876.5,981.2 C882,985.5 890,985.5 896,979 C901,973.5 903.5,966.5 904.8,959.8"/>
<path d="M895.5,963.8 L905,959.3 L909.8,971.5"/>
</g>
</svg>
<div class="t" style="left:39.54px;top:46.46px;font-size:48.4px;font-weight:700;letter-spacing:0.600px;transform:scaleX(0.9920);transform-origin:0 0;-webkit-text-stroke:2.6px;">How Big German Forwards deal with Pressure</div>
<div class="t" style="left:44.49px;top:107.80px;font-size:24px;transform:scaleX(1.0696);transform-origin:0 0;-webkit-text-stroke:0.25px;">Z-Scores for</div>
<div class="t" style="left:191.67px;top:107.80px;font-size:24px;font-weight:700;transform:scaleX(1.0337);transform-origin:0 0;-webkit-text-stroke:0.4px;">Overcoming Pressure</div>
<div class="t" style="left:454.58px;top:107.80px;font-size:24px;transform:scaleX(1.0981);transform-origin:0 0;-webkit-text-stroke:0.25px;">and</div>
<div class="t" style="left:503.55px;top:107.80px;font-size:24px;font-weight:700;transform:scaleX(1.0300);transform-origin:0 0;-webkit-text-stroke:0.4px;">Overcoming Pressure in the Central (C) Channel per Match</div>
<div class="t" style="left:1199.17px;top:107.80px;font-size:24px;transform:scaleX(1.0610);transform-origin:0 0;-webkit-text-stroke:0.25px;">compared to Centre Forwards across Europe’s Big Five</div>
<div class="t" style="left:42.96px;top:140.80px;font-size:24px;transform:scaleX(1.0748);transform-origin:0 0;-webkit-text-stroke:0.25px;">Leagues in 2024/25. Lowest and Highest score highlighted by player head shot. Average for each metric included.</div>
<div class="t" style="left:100.15px;top:204.89px;font-size:28.6px;font-weight:700;color:#f4f4f4;letter-spacing:0.500px;transform:scaleX(1.0385);transform-origin:0 0;-webkit-text-stroke:1.6px;">Nick Woltemade</div>
<div class="t" style="left:423.54px;top:204.89px;font-size:28.6px;font-weight:700;letter-spacing:0.500px;transform:scaleX(1.0032);transform-origin:0 0;-webkit-text-stroke:1.6px;">Phil Harres</div>
<div class="t" style="left:669.67px;top:204.89px;font-size:28.6px;font-weight:700;color:#f4f4f4;letter-spacing:0.500px;transform:scaleX(1.0354);transform-origin:0 0;-webkit-text-stroke:1.6px;">Nelson Weiper</div>
<div class="t" style="left:966.64px;top:204.89px;font-size:28.6px;font-weight:700;letter-spacing:0.500px;transform:scaleX(1.0409);transform-origin:0 0;-webkit-text-stroke:1.6px;">Kai Havertz</div>
<div class="t" style="left:1234.65px;top:204.89px;font-size:28.6px;font-weight:700;color:#f4f4f4;letter-spacing:0.500px;transform:scaleX(1.0211);transform-origin:0 0;-webkit-text-stroke:1.6px;">Tim Kleindienst</div>
<div class="t" style="left:42.97px;top:269.46px;font-size:18.4px;font-weight:700;font-style:italic;color:#747474;letter-spacing:0.400px;transform:scaleX(1.0621);transform-origin:0 0;-webkit-text-stroke:1.0px;">Very Significantly Below Average</div>
<div class="t" style="left:920.28px;top:269.46px;font-size:18.4px;font-weight:700;font-style:italic;color:#747474;letter-spacing:0.400px;transform:scaleX(1.0744);transform-origin:0 0;-webkit-text-stroke:1.0px;">Average</div>
<div class="t" style="left:1552.44px;top:269.46px;font-size:18.4px;font-weight:700;font-style:italic;color:#747474;letter-spacing:0.400px;transform:scaleX(1.0710);transform-origin:0 0;-webkit-text-stroke:1.0px;">Very Significantly Above Average</div>
<div class="t" style="left:49.17px;top:306.03px;font-size:19.5px;color:#111;-webkit-text-stroke:0.15px;">-3</div>
<div class="t" style="left:49.17px;top:995.32px;font-size:19.5px;color:#888;-webkit-text-stroke:0.15px;">-3</div>
<div class="t" style="left:191.28px;top:306.03px;font-size:19.5px;color:#111;-webkit-text-stroke:0.15px;">-2.5</div>
<div class="t" style="left:191.28px;top:995.32px;font-size:19.5px;color:#888;-webkit-text-stroke:0.15px;">-2.5</div>
<div class="t" style="left:349.74px;top:306.03px;font-size:19.5px;color:#111;-webkit-text-stroke:0.15px;">-2</div>
<div class="t" style="left:349.74px;top:995.32px;font-size:19.5px;color:#888;-webkit-text-stroke:0.15px;">-2</div>
<div class="t" style="left:491.92px;top:306.03px;font-size:19.5px;color:#111;-webkit-text-stroke:0.15px;">-1.5</div>
<div class="t" style="left:491.92px;top:995.32px;font-size:19.5px;color:#888;-webkit-text-stroke:0.15px;">-1.5</div>
<div class="t" style="left:650.18px;top:306.03px;font-size:19.5px;color:#111;-webkit-text-stroke:0.15px;">-1</div>
<div class="t" style="left:650.18px;top:995.32px;font-size:19.5px;color:#888;-webkit-text-stroke:0.15px;">-1</div>
<div class="t" style="left:792.28px;top:306.03px;font-size:19.5px;color:#111;-webkit-text-stroke:0.15px;">-0.5</div>
<div class="t" style="left:792.28px;top:995.32px;font-size:19.5px;color:#888;-webkit-text-stroke:0.15px;">-0.5</div>
<div class="t" style="left:954.03px;top:306.03px;font-size:19.5px;color:#111;-webkit-text-stroke:0.15px;">0</div>
<div class="t" style="left:954.03px;top:995.32px;font-size:19.5px;color:#888;-webkit-text-stroke:0.15px;">0</div>
<div class="t" style="left:1096.12px;top:306.03px;font-size:19.5px;color:#111;-webkit-text-stroke:0.15px;">0.5</div>
<div class="t" style="left:1096.12px;top:995.32px;font-size:19.5px;color:#888;-webkit-text-stroke:0.15px;">0.5</div>
<div class="t" style="left:1254.11px;top:306.03px;font-size:19.5px;color:#111;-webkit-text-stroke:0.15px;">1</div>
<div class="t" style="left:1254.11px;top:995.32px;font-size:19.5px;color:#888;-webkit-text-stroke:0.15px;">1</div>
<div class="t" style="left:1396.30px;top:306.03px;font-size:19.5px;color:#111;-webkit-text-stroke:0.15px;">1.5</div>
<div class="t" style="left:1396.30px;top:995.32px;font-size:19.5px;color:#888;-webkit-text-stroke:0.15px;">1.5</div>
<div class="t" style="left:1555.13px;top:306.03px;font-size:19.5px;color:#111;-webkit-text-stroke:0.15px;">2</div>
<div class="t" style="left:1555.13px;top:995.32px;font-size:19.5px;color:#888;-webkit-text-stroke:0.15px;">2</div>
<div class="t" style="left:1696.97px;top:306.03px;font-size:19.5px;color:#111;-webkit-text-stroke:0.15px;">2.5</div>
<div class="t" style="left:1696.97px;top:995.32px;font-size:19.5px;color:#888;-webkit-text-stroke:0.15px;">2.5</div>
<div class="t" style="left:1855.36px;top:306.03px;font-size:19.5px;color:#111;-webkit-text-stroke:0.15px;">3</div>
<div class="t" style="left:1855.36px;top:995.32px;font-size:19.5px;color:#888;-webkit-text-stroke:0.15px;">3</div>
<div class="t" style="left:42.33px;top:335.60px;font-size:23px;font-weight:700;letter-spacing:0.500px;transform:scaleX(1.0512);transform-origin:0 0;-webkit-text-stroke:1.3px;">Pressures Received</div>
<div class="t" style="left:892.04px;top:340.00px;font-size:18px;font-weight:700;font-style:italic;color:#6c6c6c;letter-spacing:0.400px;transform:scaleX(1.0402);transform-origin:0 0;-webkit-text-stroke:1.0px;">17.3 Per Match</div>
<div class="t" style="left:42.38px;top:420.60px;font-size:23px;font-weight:700;letter-spacing:0.500px;transform:scaleX(1.0349);transform-origin:0 0;-webkit-text-stroke:1.3px;">Retention Ratio</div>
<div class="t" style="left:927.32px;top:425.00px;font-size:18px;font-weight:700;font-style:italic;color:#6c6c6c;letter-spacing:0.400px;transform:scaleX(1.1949);transform-origin:0 0;-webkit-text-stroke:1.0px;">69.5%</div>
<div class="t" style="left:42.35px;top:506.00px;font-size:23px;font-weight:700;letter-spacing:0.500px;transform:scaleX(1.0440);transform-origin:0 0;-webkit-text-stroke:1.3px;">High Pressures Received</div>
<div class="t" style="left:889.54px;top:510.40px;font-size:18px;font-weight:700;font-style:italic;color:#6c6c6c;letter-spacing:0.400px;transform:scaleX(1.0793);transform-origin:0 0;-webkit-text-stroke:1.0px;">10.9 Per Match</div>
<div class="t" style="left:42.40px;top:582.60px;font-size:23px;font-weight:700;letter-spacing:0.500px;transform:scaleX(1.0287);transform-origin:0 0;-webkit-text-stroke:1.3px;">High Pressure Retention Ratio</div>
<div class="t" style="left:927.30px;top:587.00px;font-size:18px;font-weight:700;font-style:italic;color:#6c6c6c;letter-spacing:0.400px;transform:scaleX(1.2164);transform-origin:0 0;-webkit-text-stroke:1.0px;">68.5%</div>
<div class="t" style="left:43.63px;top:661.60px;font-size:23px;font-weight:700;letter-spacing:0.500px;transform:scaleX(1.0488);transform-origin:0 0;-webkit-text-stroke:1.3px;">Central Pressures Received</div>
<div class="t" style="left:892.06px;top:666.00px;font-size:18px;font-weight:700;font-style:italic;color:#6c6c6c;letter-spacing:0.400px;transform:scaleX(1.0425);transform-origin:0 0;-webkit-text-stroke:1.0px;">4.11 Per Match</div>
<div class="t" style="left:42.65px;top:736.60px;font-size:23px;font-weight:700;letter-spacing:0.500px;transform:scaleX(1.0377);transform-origin:0 0;-webkit-text-stroke:1.3px;">Central Retention Ratio</div>
<div class="t" style="left:927.30px;top:741.00px;font-size:18px;font-weight:700;font-style:italic;color:#6c6c6c;letter-spacing:0.400px;transform:scaleX(1.2164);transform-origin:0 0;-webkit-text-stroke:1.0px;">68.5%</div>
<div class="t" style="left:42.66px;top:817.80px;font-size:23px;font-weight:700;letter-spacing:0.500px;transform:scaleX(1.0358);transform-origin:0 0;-webkit-text-stroke:1.3px;">C High Pressures Received</div>
<div class="t" style="left:889.05px;top:822.20px;font-size:18px;font-weight:700;font-style:italic;color:#6c6c6c;letter-spacing:0.400px;transform:scaleX(1.0737);transform-origin:0 0;-webkit-text-stroke:1.0px;">2.61 Per Match</div>
<div class="t" style="left:42.68px;top:892.60px;font-size:23px;font-weight:700;letter-spacing:0.500px;transform:scaleX(1.0321);transform-origin:0 0;-webkit-text-stroke:1.3px;">C High Pressure Retention</div>
<div class="t" style="left:927.30px;top:897.00px;font-size:18px;font-weight:700;font-style:italic;color:#6c6c6c;letter-spacing:0.400px;transform:scaleX(1.2164);transform-origin:0 0;-webkit-text-stroke:1.0px;">68.6%</div>
<div class="t" style="left:1088.25px;top:831.75px;font-size:17px;font-style:italic;color:#0a6e58;letter-spacing:0.294px;-webkit-text-stroke:0.35px;">Even when normalising to P30 TIP, Woltemade’s Z-Score for this metric is <b>2.04!</b></div>
<div class="t" style="left:538.91px;top:965.47px;font-size:14.5px;font-style:italic;letter-spacing:0.407px;-webkit-text-stroke:0.3px;"><b style="color:#f76bc4">Havertz</b> and <b style="color:#a236a4">Kleindienst</b> have the same Z-Score</div>
<div class="t" style="left:39.45px;top:1027.20px;font-size:16px;font-style:italic;color:#111;letter-spacing:-0.417px;">2024/2025 | ENG Premier League, ESP LaLiga, FRA Ligue 1, GER Bundesliga, ITA Serie A | Minimum 5 matches of at least 60 minutes in duration at Centre Forward | 257 datapoints in sample</div>
<div class="t" style="left:38.81px;top:1047.20px;font-size:16px;font-style:italic;color:#111;letter-spacing:-0.211px;">Data correct as of 25-07-2025</div>
<div class="t" style="left:1571.97px;top:1023.60px;font-size:20px;font-weight:700;font-style:italic;letter-spacing:-0.909px;-webkit-text-stroke:1.5px;">SCOUTED</div>
<div class="t" style="left:1673.00px;top:1024.93px;font-size:13.5px;color:#222;letter-spacing:0.318px;">Powered by</div>
<div class="t" style="left:1753.45px;top:1024.48px;font-size:18.5px;font-weight:700;color:#0b2a12;letter-spacing:-0.069px;-webkit-text-stroke:0.6px;">SKILL</div>
<div class="t" style="left:1806.07px;top:1018.10px;font-size:26px;font-weight:700;color:#00c800;letter-spacing:-1.576px;">corner</div>
</body></html>
